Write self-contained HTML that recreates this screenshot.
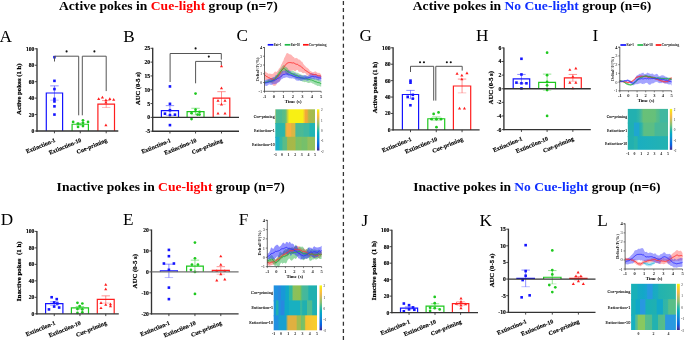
<!DOCTYPE html>
<html><head><meta charset="utf-8"><title>Figure</title>
<style>html,body{margin:0;padding:0;background:#fff;width:685px;height:341px;overflow:hidden}svg{display:block;will-change:transform}</style>
</head><body>
<svg width="685" height="341" viewBox="0 0 685 341" font-family='"Liberation Serif", serif'><defs>
<linearGradient id="pg" x1="0" y1="0" x2="0" y2="1"><stop offset="0" stop-color="#f9fb0e"/><stop offset="0.06" stop-color="#f5de21"/><stop offset="0.12" stop-color="#fec932"/><stop offset="0.19" stop-color="#f2b949"/><stop offset="0.25" stop-color="#d3bb58"/><stop offset="0.31" stop-color="#b1bd66"/><stop offset="0.38" stop-color="#8bbf75"/><stop offset="0.44" stop-color="#5ebe89"/><stop offset="0.5" stop-color="#33b8a1"/><stop offset="0.56" stop-color="#13b0b6"/><stop offset="0.62" stop-color="#06a6c7"/><stop offset="0.69" stop-color="#0a97d1"/><stop offset="0.75" stop-color="#1484d4"/><stop offset="0.81" stop-color="#0c74dd"/><stop offset="0.88" stop-color="#0462e0"/><stop offset="0.94" stop-color="#3243b9"/><stop offset="1" stop-color="#352a87"/></linearGradient>
</defs>
<text x="59" y="10.3" font-size="13.5" font-weight="bold" textLength="218.7" lengthAdjust="spacingAndGlyphs"><tspan fill="#000">Active pokes in </tspan><tspan fill="#ff0000">Cue-light</tspan><tspan fill="#000"> group (n=7)</tspan></text>
<text x="412.8" y="10.3" font-size="13.5" font-weight="bold" textLength="238.5" lengthAdjust="spacingAndGlyphs"><tspan fill="#000">Active pokes in </tspan><tspan fill="#1030ff">No Cue-light</tspan><tspan fill="#000"> group (n=6)</tspan></text>
<text x="56.6" y="190.6" font-size="13.5" font-weight="bold" textLength="228.2" lengthAdjust="spacingAndGlyphs"><tspan fill="#000">Inactive pokes in </tspan><tspan fill="#ff0000">Cue-light</tspan><tspan fill="#000"> group (n=7)</tspan></text>
<text x="413.2" y="190.7" font-size="13.5" font-weight="bold" textLength="247.3" lengthAdjust="spacingAndGlyphs"><tspan fill="#000">Inactive pokes in </tspan><tspan fill="#1030ff">No Cue-light</tspan><tspan fill="#000"> group (n=6)</tspan></text>
<line x1="343.4" y1="0.9" x2="343.4" y2="341" stroke="#333" stroke-width="1.3" stroke-dasharray="4 3.13"/>
<text x="-0.4" y="41.8" font-size="17.2" text-anchor="start" font-weight="normal" font-style="normal" fill="#000">A</text>
<line x1="34.8" y1="131" x2="37" y2="131" stroke="#333333" stroke-width="0.9"/>
<text x="34.4" y="132.95" font-size="5.6" text-anchor="end" font-weight="bold" font-style="normal" fill="#000" stroke="#000" stroke-width="0.15">0</text>
<line x1="34.8" y1="114.56" x2="37" y2="114.56" stroke="#333333" stroke-width="0.9"/>
<text x="34.4" y="116.51" font-size="5.6" text-anchor="end" font-weight="bold" font-style="normal" fill="#000" stroke="#000" stroke-width="0.15">20</text>
<line x1="34.8" y1="98.12" x2="37" y2="98.12" stroke="#333333" stroke-width="0.9"/>
<text x="34.4" y="100.07" font-size="5.6" text-anchor="end" font-weight="bold" font-style="normal" fill="#000" stroke="#000" stroke-width="0.15">40</text>
<line x1="34.8" y1="81.68" x2="37" y2="81.68" stroke="#333333" stroke-width="0.9"/>
<text x="34.4" y="83.63" font-size="5.6" text-anchor="end" font-weight="bold" font-style="normal" fill="#000" stroke="#000" stroke-width="0.15">60</text>
<line x1="34.8" y1="65.24" x2="37" y2="65.24" stroke="#333333" stroke-width="0.9"/>
<text x="34.4" y="67.19" font-size="5.6" text-anchor="end" font-weight="bold" font-style="normal" fill="#000" stroke="#000" stroke-width="0.15">80</text>
<line x1="34.8" y1="48.8" x2="37" y2="48.8" stroke="#333333" stroke-width="0.9"/>
<text x="34.4" y="50.75" font-size="5.6" text-anchor="end" font-weight="bold" font-style="normal" fill="#000" stroke="#000" stroke-width="0.15">100</text>
<text x="21.4" y="89.2" font-size="6.75" text-anchor="middle" font-weight="bold" font-style="normal" fill="#000" transform="rotate(-90 21.4 89.2)" stroke="#000" stroke-width="0.22">Active pokes (1 h)</text>
<line x1="54.45" y1="85.87" x2="54.45" y2="100.17" stroke="#1414ff" stroke-width="0.8" stroke-opacity="0.6"/>
<line x1="50.25" y1="85.87" x2="58.65" y2="85.87" stroke="#1414ff" stroke-width="0.8" stroke-opacity="0.6"/>
<line x1="50.25" y1="100.17" x2="58.65" y2="100.17" stroke="#1414ff" stroke-width="0.8" stroke-opacity="0.35"/>
<polyline points="46.3,131 46.3,93.02 62.6,93.02 62.6,131" fill="none" stroke="#1414ff" stroke-width="1.2" stroke-linejoin="miter"/>
<rect x="53.15" y="55.88" width="2.6" height="2.6" fill="#1414ff"/>
<rect x="53.15" y="79.56" width="2.6" height="2.6" fill="#1414ff"/>
<rect x="53.15" y="87.78" width="2.6" height="2.6" fill="#1414ff"/>
<rect x="53.15" y="97.64" width="2.6" height="2.6" fill="#1414ff"/>
<rect x="53.15" y="100.11" width="2.6" height="2.6" fill="#1414ff"/>
<rect x="53.15" y="105.04" width="2.6" height="2.6" fill="#1414ff"/>
<rect x="53.15" y="113.26" width="2.6" height="2.6" fill="#1414ff"/>
<line x1="80.25" y1="123.19" x2="80.25" y2="125.33" stroke="#1ec81e" stroke-width="0.8" stroke-opacity="0.6"/>
<line x1="76.05" y1="123.19" x2="84.45" y2="123.19" stroke="#1ec81e" stroke-width="0.8" stroke-opacity="0.6"/>
<line x1="76.05" y1="125.33" x2="84.45" y2="125.33" stroke="#1ec81e" stroke-width="0.8" stroke-opacity="0.35"/>
<polyline points="72.1,131 72.1,124.26 88.4,124.26 88.4,131" fill="none" stroke="#1ec81e" stroke-width="1.2" stroke-linejoin="miter"/>
<circle cx="73.15" cy="121.96" r="1.37" fill="#1ec81e"/>
<circle cx="78.05" cy="123.6" r="1.37" fill="#1ec81e"/>
<circle cx="78.05" cy="126.89" r="1.37" fill="#1ec81e"/>
<circle cx="82.95" cy="120.31" r="1.37" fill="#1ec81e"/>
<circle cx="82.95" cy="122.78" r="1.37" fill="#1ec81e"/>
<circle cx="82.95" cy="126.07" r="1.37" fill="#1ec81e"/>
<circle cx="88.05" cy="121.96" r="1.37" fill="#1ec81e"/>
<line x1="106.2" y1="100.59" x2="106.2" y2="107.49" stroke="#ff1e1e" stroke-width="0.8" stroke-opacity="0.6"/>
<line x1="102" y1="100.59" x2="110.4" y2="100.59" stroke="#ff1e1e" stroke-width="0.8" stroke-opacity="0.6"/>
<line x1="102" y1="107.49" x2="110.4" y2="107.49" stroke="#ff1e1e" stroke-width="0.8" stroke-opacity="0.35"/>
<polyline points="97.9,131 97.9,104.04 114.5,104.04 114.5,131" fill="none" stroke="#ff1e1e" stroke-width="1.2" stroke-linejoin="miter"/>
<polygon points="98.7,97.22 97.14,99.95 100.26,99.95" fill="#ff1e1e"/>
<polygon points="102.4,95.74 100.84,98.47 103.96,98.47" fill="#ff1e1e"/>
<polygon points="105.9,98.45 104.34,101.18 107.46,101.18" fill="#ff1e1e"/>
<polygon points="109.8,97.22 108.24,99.95 111.36,99.95" fill="#ff1e1e"/>
<polygon points="113.7,98.04 112.14,100.77 115.26,100.77" fill="#ff1e1e"/>
<polygon points="105.9,123.52 104.34,126.25 107.46,126.25" fill="#ff1e1e"/>
<polygon points="105.9,100.67 104.34,103.4 107.46,103.4" fill="#ff1e1e"/>
<line x1="37" y1="48.3" x2="37" y2="131.65" stroke="#333333" stroke-width="1.35"/>
<line x1="36.4" y1="131" x2="118.3" y2="131" stroke="#333333" stroke-width="1.35"/>
<line x1="54.45" y1="131" x2="54.45" y2="133.3" stroke="#333333" stroke-width="0.9"/>
<text x="55.85" y="141.6" font-size="5.95" text-anchor="end" font-weight="bold" font-style="normal" fill="#000" transform="rotate(-22.5 55.85 141.6)" stroke="#000" stroke-width="0.14">Extinction-1</text>
<line x1="80.25" y1="131" x2="80.25" y2="133.3" stroke="#333333" stroke-width="0.9"/>
<text x="81.65" y="141.6" font-size="5.95" text-anchor="end" font-weight="bold" font-style="normal" fill="#000" transform="rotate(-22.5 81.65 141.6)" stroke="#000" stroke-width="0.14">Extinction-10</text>
<line x1="106.2" y1="131" x2="106.2" y2="133.3" stroke="#333333" stroke-width="0.9"/>
<text x="107.6" y="141.6" font-size="5.95" text-anchor="end" font-weight="bold" font-style="normal" fill="#000" transform="rotate(-22.5 107.6 141.6)" stroke="#000" stroke-width="0.14">Cue-priming</text>
<polyline points="54.5,61.5 54.5,56.2 78.7,56.2 78.7,115.3" fill="none" stroke="#555" stroke-width="1.0"/>
<polyline points="82.3,115.3 82.3,56.2 106.2,56.2 106.2,91.1" fill="none" stroke="#555" stroke-width="1.0"/>
<circle cx="66.6" cy="51.4" r="1.05" fill="#111"/>
<circle cx="94.4" cy="51.4" r="1.05" fill="#111"/>
<text x="123.3" y="41.7" font-size="17.2" text-anchor="start" font-weight="normal" font-style="normal" fill="#000">B</text>
<line x1="150.5" y1="131.2" x2="152.7" y2="131.2" stroke="#333333" stroke-width="0.9"/>
<text x="150.1" y="133.15" font-size="5.6" text-anchor="end" font-weight="bold" font-style="normal" fill="#000" stroke="#000" stroke-width="0.15">-5</text>
<line x1="150.5" y1="117.38" x2="152.7" y2="117.38" stroke="#333333" stroke-width="0.9"/>
<text x="150.1" y="119.33" font-size="5.6" text-anchor="end" font-weight="bold" font-style="normal" fill="#000" stroke="#000" stroke-width="0.15">0</text>
<line x1="150.5" y1="103.57" x2="152.7" y2="103.57" stroke="#333333" stroke-width="0.9"/>
<text x="150.1" y="105.52" font-size="5.6" text-anchor="end" font-weight="bold" font-style="normal" fill="#000" stroke="#000" stroke-width="0.15">5</text>
<line x1="150.5" y1="89.75" x2="152.7" y2="89.75" stroke="#333333" stroke-width="0.9"/>
<text x="150.1" y="91.7" font-size="5.6" text-anchor="end" font-weight="bold" font-style="normal" fill="#000" stroke="#000" stroke-width="0.15">10</text>
<line x1="150.5" y1="75.93" x2="152.7" y2="75.93" stroke="#333333" stroke-width="0.9"/>
<text x="150.1" y="77.88" font-size="5.6" text-anchor="end" font-weight="bold" font-style="normal" fill="#000" stroke="#000" stroke-width="0.15">15</text>
<line x1="150.5" y1="62.12" x2="152.7" y2="62.12" stroke="#333333" stroke-width="0.9"/>
<text x="150.1" y="64.07" font-size="5.6" text-anchor="end" font-weight="bold" font-style="normal" fill="#000" stroke="#000" stroke-width="0.15">20</text>
<line x1="150.5" y1="48.3" x2="152.7" y2="48.3" stroke="#333333" stroke-width="0.9"/>
<text x="150.1" y="50.25" font-size="5.6" text-anchor="end" font-weight="bold" font-style="normal" fill="#000" stroke="#000" stroke-width="0.15">25</text>
<text x="139.9" y="88.55" font-size="6.5" text-anchor="middle" font-weight="bold" font-style="normal" fill="#000" transform="rotate(-90 139.9 88.55)" stroke="#000" stroke-width="0.22">AUC (0-5 s)</text>
<line x1="169.95" y1="105.61" x2="169.95" y2="115.56" stroke="#1414ff" stroke-width="0.8" stroke-opacity="0.6"/>
<line x1="165.75" y1="105.61" x2="174.15" y2="105.61" stroke="#1414ff" stroke-width="0.8" stroke-opacity="0.6"/>
<line x1="165.75" y1="115.56" x2="174.15" y2="115.56" stroke="#1414ff" stroke-width="0.8" stroke-opacity="0.35"/>
<polyline points="161.4,117.38 161.4,110.59 178.5,110.59 178.5,117.38" fill="none" stroke="#1414ff" stroke-width="1.2" stroke-linejoin="miter"/>
<rect x="168.65" y="85.13" width="2.6" height="2.6" fill="#1414ff"/>
<rect x="168.65" y="102.54" width="2.6" height="2.6" fill="#1414ff"/>
<rect x="168.65" y="108.9" width="2.6" height="2.6" fill="#1414ff"/>
<rect x="163.65" y="112.38" width="2.6" height="2.6" fill="#1414ff"/>
<rect x="168.65" y="113.79" width="2.6" height="2.6" fill="#1414ff"/>
<rect x="173.65" y="113.38" width="2.6" height="2.6" fill="#1414ff"/>
<rect x="168.65" y="123.82" width="2.6" height="2.6" fill="#1414ff"/>
<line x1="195.55" y1="108.26" x2="195.55" y2="114.9" stroke="#1ec81e" stroke-width="0.8" stroke-opacity="0.6"/>
<line x1="191.35" y1="108.26" x2="199.75" y2="108.26" stroke="#1ec81e" stroke-width="0.8" stroke-opacity="0.6"/>
<line x1="191.35" y1="114.9" x2="199.75" y2="114.9" stroke="#1ec81e" stroke-width="0.8" stroke-opacity="0.35"/>
<polyline points="187.1,117.38 187.1,111.58 204,111.58 204,117.38" fill="none" stroke="#1ec81e" stroke-width="1.2" stroke-linejoin="miter"/>
<circle cx="195.55" cy="93.62" r="1.37" fill="#1ec81e"/>
<circle cx="195.55" cy="109.65" r="1.37" fill="#1ec81e"/>
<circle cx="191.55" cy="113.24" r="1.37" fill="#1ec81e"/>
<circle cx="199.55" cy="111.86" r="1.37" fill="#1ec81e"/>
<circle cx="197.55" cy="114.62" r="1.37" fill="#1ec81e"/>
<circle cx="191.55" cy="119.04" r="1.37" fill="#1ec81e"/>
<circle cx="199.55" cy="114.62" r="1.37" fill="#1ec81e"/>
<line x1="221.5" y1="91.68" x2="221.5" y2="104.4" stroke="#ff1e1e" stroke-width="0.8" stroke-opacity="0.6"/>
<line x1="217.3" y1="91.68" x2="225.7" y2="91.68" stroke="#ff1e1e" stroke-width="0.8" stroke-opacity="0.6"/>
<line x1="217.3" y1="104.4" x2="225.7" y2="104.4" stroke="#ff1e1e" stroke-width="0.8" stroke-opacity="0.35"/>
<polyline points="213.2,117.38 213.2,98.04 229.8,98.04 229.8,117.38" fill="none" stroke="#ff1e1e" stroke-width="1.2" stroke-linejoin="miter"/>
<polygon points="221.5,64.43 219.94,67.16 223.06,67.16" fill="#ff1e1e"/>
<polygon points="221.5,86.53 219.94,89.26 223.06,89.26" fill="#ff1e1e"/>
<polygon points="218,98.97 216.44,101.7 219.56,101.7" fill="#ff1e1e"/>
<polygon points="225,98.97 223.44,101.7 226.56,101.7" fill="#ff1e1e"/>
<polygon points="221.5,102.84 219.94,105.57 223.06,105.57" fill="#ff1e1e"/>
<polygon points="218,111.68 216.44,114.41 219.56,114.41" fill="#ff1e1e"/>
<polygon points="225,111.68 223.44,114.41 226.56,114.41" fill="#ff1e1e"/>
<line x1="152.7" y1="47.8" x2="152.7" y2="131.85" stroke="#333333" stroke-width="1.35"/>
<line x1="152.1" y1="131.2" x2="239" y2="131.2" stroke="#333333" stroke-width="1.35"/>
<line x1="152.7" y1="117.38" x2="239" y2="117.38" stroke="#333333" stroke-width="1.3"/>
<line x1="169.95" y1="131.2" x2="169.95" y2="133.5" stroke="#333333" stroke-width="0.9"/>
<text x="171.35" y="141.8" font-size="5.95" text-anchor="end" font-weight="bold" font-style="normal" fill="#000" transform="rotate(-22.5 171.35 141.8)" stroke="#000" stroke-width="0.14">Extinction-1</text>
<line x1="195.55" y1="131.2" x2="195.55" y2="133.5" stroke="#333333" stroke-width="0.9"/>
<text x="196.95" y="141.8" font-size="5.95" text-anchor="end" font-weight="bold" font-style="normal" fill="#000" transform="rotate(-22.5 196.95 141.8)" stroke="#000" stroke-width="0.14">Extinction-10</text>
<line x1="221.5" y1="131.2" x2="221.5" y2="133.5" stroke="#333333" stroke-width="0.9"/>
<text x="222.9" y="141.8" font-size="5.95" text-anchor="end" font-weight="bold" font-style="normal" fill="#000" transform="rotate(-22.5 222.9 141.8)" stroke="#000" stroke-width="0.14">Cue-priming</text>
<polyline points="170.1,82 170.1,53.5 221.3,53.5 221.3,59.6" fill="none" stroke="#555" stroke-width="1.0"/>
<polyline points="195.6,83.3 195.6,61.4 221.3,61.4 221.3,64.9" fill="none" stroke="#555" stroke-width="1.0"/>
<circle cx="195.6" cy="48.4" r="1.05" fill="#111"/>
<circle cx="208.8" cy="56.6" r="1.05" fill="#111"/>
<text x="0.8" y="225" font-size="17.2" text-anchor="start" font-weight="normal" font-style="normal" fill="#000">D</text>
<line x1="34.7" y1="313.8" x2="36.9" y2="313.8" stroke="#333333" stroke-width="0.9"/>
<text x="34.3" y="315.75" font-size="5.6" text-anchor="end" font-weight="bold" font-style="normal" fill="#000" stroke="#000" stroke-width="0.15">0</text>
<line x1="34.7" y1="297.32" x2="36.9" y2="297.32" stroke="#333333" stroke-width="0.9"/>
<text x="34.3" y="299.27" font-size="5.6" text-anchor="end" font-weight="bold" font-style="normal" fill="#000" stroke="#000" stroke-width="0.15">20</text>
<line x1="34.7" y1="280.84" x2="36.9" y2="280.84" stroke="#333333" stroke-width="0.9"/>
<text x="34.3" y="282.79" font-size="5.6" text-anchor="end" font-weight="bold" font-style="normal" fill="#000" stroke="#000" stroke-width="0.15">40</text>
<line x1="34.7" y1="264.36" x2="36.9" y2="264.36" stroke="#333333" stroke-width="0.9"/>
<text x="34.3" y="266.31" font-size="5.6" text-anchor="end" font-weight="bold" font-style="normal" fill="#000" stroke="#000" stroke-width="0.15">60</text>
<line x1="34.7" y1="247.88" x2="36.9" y2="247.88" stroke="#333333" stroke-width="0.9"/>
<text x="34.3" y="249.83" font-size="5.6" text-anchor="end" font-weight="bold" font-style="normal" fill="#000" stroke="#000" stroke-width="0.15">80</text>
<line x1="34.7" y1="231.4" x2="36.9" y2="231.4" stroke="#333333" stroke-width="0.9"/>
<text x="34.3" y="233.35" font-size="5.6" text-anchor="end" font-weight="bold" font-style="normal" fill="#000" stroke="#000" stroke-width="0.15">100</text>
<text x="21" y="271.3" font-size="6.95" text-anchor="middle" font-weight="bold" font-style="normal" fill="#000" transform="rotate(-90 21 271.3)" stroke="#000" stroke-width="0.22">Inactive pokes&#160; (1 h)</text>
<line x1="54.25" y1="301.85" x2="54.25" y2="305.48" stroke="#1414ff" stroke-width="0.8" stroke-opacity="0.6"/>
<line x1="50.05" y1="301.85" x2="58.45" y2="301.85" stroke="#1414ff" stroke-width="0.8" stroke-opacity="0.6"/>
<line x1="50.05" y1="305.48" x2="58.45" y2="305.48" stroke="#1414ff" stroke-width="0.8" stroke-opacity="0.35"/>
<polyline points="45.6,313.8 45.6,303.66 62.9,303.66 62.9,313.8" fill="none" stroke="#1414ff" stroke-width="1.2" stroke-linejoin="miter"/>
<rect x="50.35" y="295.94" width="2.6" height="2.6" fill="#1414ff"/>
<rect x="55.45" y="297.83" width="2.6" height="2.6" fill="#1414ff"/>
<rect x="52.85" y="301.13" width="2.6" height="2.6" fill="#1414ff"/>
<rect x="56.05" y="302.2" width="2.6" height="2.6" fill="#1414ff"/>
<rect x="52.85" y="305.25" width="2.6" height="2.6" fill="#1414ff"/>
<rect x="47.65" y="308.13" width="2.6" height="2.6" fill="#1414ff"/>
<rect x="57.85" y="306.24" width="2.6" height="2.6" fill="#1414ff"/>
<line x1="79.95" y1="306.47" x2="79.95" y2="309.43" stroke="#1ec81e" stroke-width="0.8" stroke-opacity="0.6"/>
<line x1="75.75" y1="306.47" x2="84.15" y2="306.47" stroke="#1ec81e" stroke-width="0.8" stroke-opacity="0.6"/>
<line x1="75.75" y1="309.43" x2="84.15" y2="309.43" stroke="#1ec81e" stroke-width="0.8" stroke-opacity="0.35"/>
<polyline points="71.4,313.8 71.4,307.95 88.5,307.95 88.5,313.8" fill="none" stroke="#1ec81e" stroke-width="1.2" stroke-linejoin="miter"/>
<circle cx="77.45" cy="302.76" r="1.37" fill="#1ec81e"/>
<circle cx="82.35" cy="303.5" r="1.37" fill="#1ec81e"/>
<circle cx="79.65" cy="306.05" r="1.37" fill="#1ec81e"/>
<circle cx="77.45" cy="309.02" r="1.37" fill="#1ec81e"/>
<circle cx="82.35" cy="309.43" r="1.37" fill="#1ec81e"/>
<circle cx="77.45" cy="312.89" r="1.37" fill="#1ec81e"/>
<circle cx="82.35" cy="312.32" r="1.37" fill="#1ec81e"/>
<line x1="105.75" y1="295.84" x2="105.75" y2="303.09" stroke="#ff1e1e" stroke-width="0.8" stroke-opacity="0.6"/>
<line x1="101.55" y1="295.84" x2="109.95" y2="295.84" stroke="#ff1e1e" stroke-width="0.8" stroke-opacity="0.6"/>
<line x1="101.55" y1="303.09" x2="109.95" y2="303.09" stroke="#ff1e1e" stroke-width="0.8" stroke-opacity="0.35"/>
<polyline points="97.3,313.8 97.3,299.46 114.2,299.46 114.2,313.8" fill="none" stroke="#ff1e1e" stroke-width="1.2" stroke-linejoin="miter"/>
<polygon points="105.75,282.99 104.19,285.72 107.31,285.72" fill="#ff1e1e"/>
<polygon points="105.75,287.44 104.19,290.17 107.31,290.17" fill="#ff1e1e"/>
<polygon points="101,301.2 99.44,303.93 102.56,303.93" fill="#ff1e1e"/>
<polygon points="105.75,303.09 104.19,305.82 107.31,305.82" fill="#ff1e1e"/>
<polygon points="110.5,302.6 108.94,305.33 112.06,305.33" fill="#ff1e1e"/>
<polygon points="110.5,304.49 108.94,307.22 112.06,307.22" fill="#ff1e1e"/>
<polygon points="101,306.39 99.44,309.12 102.56,309.12" fill="#ff1e1e"/>
<line x1="36.9" y1="230.9" x2="36.9" y2="314.45" stroke="#333333" stroke-width="1.35"/>
<line x1="36.3" y1="313.8" x2="118.8" y2="313.8" stroke="#333333" stroke-width="1.35"/>
<line x1="54.25" y1="313.8" x2="54.25" y2="316.1" stroke="#333333" stroke-width="0.9"/>
<text x="55.65" y="324.4" font-size="5.95" text-anchor="end" font-weight="bold" font-style="normal" fill="#000" transform="rotate(-22.5 55.65 324.4)" stroke="#000" stroke-width="0.14">Extinction-1</text>
<line x1="79.95" y1="313.8" x2="79.95" y2="316.1" stroke="#333333" stroke-width="0.9"/>
<text x="81.35" y="324.4" font-size="5.95" text-anchor="end" font-weight="bold" font-style="normal" fill="#000" transform="rotate(-22.5 81.35 324.4)" stroke="#000" stroke-width="0.14">Extinction-10</text>
<line x1="105.75" y1="313.8" x2="105.75" y2="316.1" stroke="#333333" stroke-width="0.9"/>
<text x="107.15" y="324.4" font-size="5.95" text-anchor="end" font-weight="bold" font-style="normal" fill="#000" transform="rotate(-22.5 107.15 324.4)" stroke="#000" stroke-width="0.14">Cue-priming</text>
<text x="123.1" y="225" font-size="17.2" text-anchor="start" font-weight="normal" font-style="normal" fill="#000">E</text>
<line x1="149.3" y1="313.8" x2="151.5" y2="313.8" stroke="#333333" stroke-width="0.9"/>
<text x="148.9" y="315.75" font-size="5.6" text-anchor="end" font-weight="bold" font-style="normal" fill="#000" stroke="#000" stroke-width="0.15">-20</text>
<line x1="149.3" y1="292.85" x2="151.5" y2="292.85" stroke="#333333" stroke-width="0.9"/>
<text x="148.9" y="294.8" font-size="5.6" text-anchor="end" font-weight="bold" font-style="normal" fill="#000" stroke="#000" stroke-width="0.15">-10</text>
<line x1="149.3" y1="271.9" x2="151.5" y2="271.9" stroke="#333333" stroke-width="0.9"/>
<text x="148.9" y="273.85" font-size="5.6" text-anchor="end" font-weight="bold" font-style="normal" fill="#000" stroke="#000" stroke-width="0.15">0</text>
<line x1="149.3" y1="250.95" x2="151.5" y2="250.95" stroke="#333333" stroke-width="0.9"/>
<text x="148.9" y="252.9" font-size="5.6" text-anchor="end" font-weight="bold" font-style="normal" fill="#000" stroke="#000" stroke-width="0.15">10</text>
<line x1="149.3" y1="230" x2="151.5" y2="230" stroke="#333333" stroke-width="0.9"/>
<text x="148.9" y="231.95" font-size="5.6" text-anchor="end" font-weight="bold" font-style="normal" fill="#000" stroke="#000" stroke-width="0.15">20</text>
<text x="137.2" y="271.2" font-size="6.8" text-anchor="middle" font-weight="bold" font-style="normal" fill="#000" transform="rotate(-90 137.2 271.2)" stroke="#000" stroke-width="0.22">AUC (0-5 s)</text>
<line x1="168.9" y1="264.15" x2="168.9" y2="277.56" stroke="#1414ff" stroke-width="0.8" stroke-opacity="0.6"/>
<line x1="164.7" y1="264.15" x2="173.1" y2="264.15" stroke="#1414ff" stroke-width="0.8" stroke-opacity="0.6"/>
<line x1="164.7" y1="277.56" x2="173.1" y2="277.56" stroke="#1414ff" stroke-width="0.8" stroke-opacity="0.35"/>
<polyline points="160.4,271.9 160.4,270.85 177.4,270.85 177.4,271.9" fill="none" stroke="#1414ff" stroke-width="1.2" stroke-linejoin="miter"/>
<rect x="167.6" y="248.6" width="2.6" height="2.6" fill="#1414ff"/>
<rect x="167.6" y="254.89" width="2.6" height="2.6" fill="#1414ff"/>
<rect x="162.6" y="262.22" width="2.6" height="2.6" fill="#1414ff"/>
<rect x="172.6" y="262.22" width="2.6" height="2.6" fill="#1414ff"/>
<rect x="167.6" y="286.31" width="2.6" height="2.6" fill="#1414ff"/>
<rect x="167.6" y="297.83" width="2.6" height="2.6" fill="#1414ff"/>
<rect x="167.6" y="268.5" width="2.6" height="2.6" fill="#1414ff"/>
<line x1="194.95" y1="260.17" x2="194.95" y2="271.9" stroke="#1ec81e" stroke-width="0.8" stroke-opacity="0.6"/>
<line x1="190.75" y1="260.17" x2="199.15" y2="260.17" stroke="#1ec81e" stroke-width="0.8" stroke-opacity="0.6"/>
<line x1="190.75" y1="271.9" x2="199.15" y2="271.9" stroke="#1ec81e" stroke-width="0.8" stroke-opacity="0.35"/>
<polyline points="186.6,271.9 186.6,266.03 203.3,266.03 203.3,271.9" fill="none" stroke="#1ec81e" stroke-width="1.2" stroke-linejoin="miter"/>
<circle cx="194.95" cy="242.57" r="1.37" fill="#1ec81e"/>
<circle cx="194.95" cy="258.28" r="1.37" fill="#1ec81e"/>
<circle cx="191.95" cy="264.57" r="1.37" fill="#1ec81e"/>
<circle cx="197.95" cy="264.57" r="1.37" fill="#1ec81e"/>
<circle cx="194.95" cy="271.9" r="1.37" fill="#1ec81e"/>
<circle cx="194.95" cy="293.9" r="1.37" fill="#1ec81e"/>
<circle cx="190.95" cy="269.81" r="1.37" fill="#1ec81e"/>
<line x1="220.8" y1="266.66" x2="220.8" y2="274.2" stroke="#ff1e1e" stroke-width="0.8" stroke-opacity="0.6"/>
<line x1="216.6" y1="266.66" x2="225" y2="266.66" stroke="#ff1e1e" stroke-width="0.8" stroke-opacity="0.6"/>
<line x1="216.6" y1="274.2" x2="225" y2="274.2" stroke="#ff1e1e" stroke-width="0.8" stroke-opacity="0.35"/>
<polyline points="212.3,271.9 212.3,270.43 229.3,270.43 229.3,271.9" fill="none" stroke="#ff1e1e" stroke-width="1.2" stroke-linejoin="miter"/>
<polygon points="220.8,254.63 219.24,257.36 222.36,257.36" fill="#ff1e1e"/>
<polygon points="220.8,263.01 219.24,265.74 222.36,265.74" fill="#ff1e1e"/>
<polygon points="216.8,269.29 215.24,272.02 218.36,272.02" fill="#ff1e1e"/>
<polygon points="224.8,269.29 223.24,272.02 226.36,272.02" fill="#ff1e1e"/>
<polygon points="220.8,272.44 219.24,275.17 222.36,275.17" fill="#ff1e1e"/>
<polygon points="216.8,278.72 215.24,281.45 218.36,281.45" fill="#ff1e1e"/>
<polygon points="224.8,277.67 223.24,280.4 226.36,280.4" fill="#ff1e1e"/>
<line x1="151.5" y1="229.5" x2="151.5" y2="314.45" stroke="#333333" stroke-width="1.35"/>
<line x1="150.9" y1="313.8" x2="238.6" y2="313.8" stroke="#333333" stroke-width="1.35"/>
<line x1="151.5" y1="271.9" x2="238.6" y2="271.9" stroke="#707070" stroke-width="1.3"/>
<line x1="168.9" y1="313.8" x2="168.9" y2="316.1" stroke="#333333" stroke-width="0.9"/>
<text x="170.3" y="324.4" font-size="5.95" text-anchor="end" font-weight="bold" font-style="normal" fill="#000" transform="rotate(-22.5 170.3 324.4)" stroke="#000" stroke-width="0.14">Extinction-1</text>
<line x1="194.95" y1="313.8" x2="194.95" y2="316.1" stroke="#333333" stroke-width="0.9"/>
<text x="196.35" y="324.4" font-size="5.95" text-anchor="end" font-weight="bold" font-style="normal" fill="#000" transform="rotate(-22.5 196.35 324.4)" stroke="#000" stroke-width="0.14">Extinction-10</text>
<line x1="220.8" y1="313.8" x2="220.8" y2="316.1" stroke="#333333" stroke-width="0.9"/>
<text x="222.2" y="324.4" font-size="5.95" text-anchor="end" font-weight="bold" font-style="normal" fill="#000" transform="rotate(-22.5 222.2 324.4)" stroke="#000" stroke-width="0.14">Cue-priming</text>
<text x="359.4" y="41.2" font-size="17.2" text-anchor="start" font-weight="normal" font-style="normal" fill="#000">G</text>
<line x1="390.9" y1="129.9" x2="393.1" y2="129.9" stroke="#333333" stroke-width="0.9"/>
<text x="390.5" y="131.85" font-size="5.6" text-anchor="end" font-weight="bold" font-style="normal" fill="#000" stroke="#000" stroke-width="0.15">0</text>
<line x1="390.9" y1="113.48" x2="393.1" y2="113.48" stroke="#333333" stroke-width="0.9"/>
<text x="390.5" y="115.43" font-size="5.6" text-anchor="end" font-weight="bold" font-style="normal" fill="#000" stroke="#000" stroke-width="0.15">20</text>
<line x1="390.9" y1="97.06" x2="393.1" y2="97.06" stroke="#333333" stroke-width="0.9"/>
<text x="390.5" y="99.01" font-size="5.6" text-anchor="end" font-weight="bold" font-style="normal" fill="#000" stroke="#000" stroke-width="0.15">40</text>
<line x1="390.9" y1="80.64" x2="393.1" y2="80.64" stroke="#333333" stroke-width="0.9"/>
<text x="390.5" y="82.59" font-size="5.6" text-anchor="end" font-weight="bold" font-style="normal" fill="#000" stroke="#000" stroke-width="0.15">60</text>
<line x1="390.9" y1="64.22" x2="393.1" y2="64.22" stroke="#333333" stroke-width="0.9"/>
<text x="390.5" y="66.17" font-size="5.6" text-anchor="end" font-weight="bold" font-style="normal" fill="#000" stroke="#000" stroke-width="0.15">80</text>
<line x1="390.9" y1="47.8" x2="393.1" y2="47.8" stroke="#333333" stroke-width="0.9"/>
<text x="390.5" y="49.75" font-size="5.6" text-anchor="end" font-weight="bold" font-style="normal" fill="#000" stroke="#000" stroke-width="0.15">100</text>
<text x="377" y="87.5" font-size="6.75" text-anchor="middle" font-weight="bold" font-style="normal" fill="#000" transform="rotate(-90 377 87.5)" stroke="#000" stroke-width="0.22">Active pokes (1 h)</text>
<line x1="410.5" y1="90.41" x2="410.5" y2="98.62" stroke="#1414ff" stroke-width="0.8" stroke-opacity="0.6"/>
<line x1="406.3" y1="90.41" x2="414.7" y2="90.41" stroke="#1414ff" stroke-width="0.8" stroke-opacity="0.6"/>
<line x1="406.3" y1="98.62" x2="414.7" y2="98.62" stroke="#1414ff" stroke-width="0.8" stroke-opacity="0.35"/>
<polyline points="402.4,129.9 402.4,94.51 418.6,94.51 418.6,129.9" fill="none" stroke="#1414ff" stroke-width="1.2" stroke-linejoin="miter"/>
<rect x="409.2" y="79.34" width="2.6" height="2.6" fill="#1414ff"/>
<rect x="409.2" y="81.39" width="2.6" height="2.6" fill="#1414ff"/>
<rect x="406.4" y="95.51" width="2.6" height="2.6" fill="#1414ff"/>
<rect x="411.5" y="93.54" width="2.6" height="2.6" fill="#1414ff"/>
<rect x="411.5" y="97.32" width="2.6" height="2.6" fill="#1414ff"/>
<rect x="409.1" y="103.97" width="2.6" height="2.6" fill="#1414ff"/>
<line x1="436.25" y1="116.93" x2="436.25" y2="120.54" stroke="#1ec81e" stroke-width="0.8" stroke-opacity="0.6"/>
<line x1="432.05" y1="116.93" x2="440.45" y2="116.93" stroke="#1ec81e" stroke-width="0.8" stroke-opacity="0.6"/>
<line x1="432.05" y1="120.54" x2="440.45" y2="120.54" stroke="#1ec81e" stroke-width="0.8" stroke-opacity="0.35"/>
<polyline points="427.8,129.9 427.8,118.73 444.7,118.73 444.7,129.9" fill="none" stroke="#1ec81e" stroke-width="1.2" stroke-linejoin="miter"/>
<circle cx="433.65" cy="113.89" r="1.37" fill="#1ec81e"/>
<circle cx="438.55" cy="112.41" r="1.37" fill="#1ec81e"/>
<circle cx="431.55" cy="119.23" r="1.37" fill="#1ec81e"/>
<circle cx="436.45" cy="119.23" r="1.37" fill="#1ec81e"/>
<circle cx="441.05" cy="119.23" r="1.37" fill="#1ec81e"/>
<circle cx="436.45" cy="127.19" r="1.37" fill="#1ec81e"/>
<line x1="462.05" y1="79.08" x2="462.05" y2="92.87" stroke="#ff1e1e" stroke-width="0.8" stroke-opacity="0.6"/>
<line x1="457.85" y1="79.08" x2="466.25" y2="79.08" stroke="#ff1e1e" stroke-width="0.8" stroke-opacity="0.6"/>
<line x1="457.85" y1="92.87" x2="466.25" y2="92.87" stroke="#ff1e1e" stroke-width="0.8" stroke-opacity="0.35"/>
<polyline points="453.4,129.9 453.4,85.98 470.7,85.98 470.7,129.9" fill="none" stroke="#ff1e1e" stroke-width="1.2" stroke-linejoin="miter"/>
<polygon points="457.05,72.1 455.49,74.83 458.61,74.83" fill="#ff1e1e"/>
<polygon points="461.85,73.66 460.29,76.39 463.41,76.39" fill="#ff1e1e"/>
<polygon points="466.95,71.61 465.39,74.34 468.51,74.34" fill="#ff1e1e"/>
<polygon points="461.85,77.44 460.29,80.17 463.41,80.17" fill="#ff1e1e"/>
<polygon points="459.55,106.67 457.99,109.4 461.11,109.4" fill="#ff1e1e"/>
<polygon points="464.45,106.67 462.89,109.4 466.01,109.4" fill="#ff1e1e"/>
<line x1="393.1" y1="47.3" x2="393.1" y2="130.55" stroke="#333333" stroke-width="1.35"/>
<line x1="392.5" y1="129.9" x2="479.6" y2="129.9" stroke="#333333" stroke-width="1.35"/>
<line x1="410.5" y1="129.9" x2="410.5" y2="132.2" stroke="#333333" stroke-width="0.9"/>
<text x="411.9" y="140.5" font-size="5.95" text-anchor="end" font-weight="bold" font-style="normal" fill="#000" transform="rotate(-22.5 411.9 140.5)" stroke="#000" stroke-width="0.14">Extinction-1</text>
<line x1="436.25" y1="129.9" x2="436.25" y2="132.2" stroke="#333333" stroke-width="0.9"/>
<text x="437.65" y="140.5" font-size="5.95" text-anchor="end" font-weight="bold" font-style="normal" fill="#000" transform="rotate(-22.5 437.65 140.5)" stroke="#000" stroke-width="0.14">Extinction-10</text>
<line x1="462.05" y1="129.9" x2="462.05" y2="132.2" stroke="#333333" stroke-width="0.9"/>
<text x="463.45" y="140.5" font-size="5.95" text-anchor="end" font-weight="bold" font-style="normal" fill="#000" transform="rotate(-22.5 463.45 140.5)" stroke="#000" stroke-width="0.14">Cue-priming</text>
<polyline points="410.5,72 410.5,66.3 433.7,66.3 433.7,100.6" fill="none" stroke="#555" stroke-width="1.0"/>
<polyline points="435.8,100.6 435.8,66.3 462.2,66.3 462.2,70.6" fill="none" stroke="#555" stroke-width="1.0"/>
<circle cx="420.05" cy="62.2" r="1.05" fill="#111"/>
<circle cx="423.95" cy="62.2" r="1.05" fill="#111"/>
<circle cx="446.85" cy="62.2" r="1.05" fill="#111"/>
<circle cx="450.75" cy="62.2" r="1.05" fill="#111"/>
<text x="476" y="41" font-size="17.2" text-anchor="start" font-weight="normal" font-style="normal" fill="#000">H</text>
<line x1="501.7" y1="129.6" x2="503.9" y2="129.6" stroke="#333333" stroke-width="0.9"/>
<text x="501.3" y="131.55" font-size="5.6" text-anchor="end" font-weight="bold" font-style="normal" fill="#000" stroke="#000" stroke-width="0.15">-6</text>
<line x1="501.7" y1="115.98" x2="503.9" y2="115.98" stroke="#333333" stroke-width="0.9"/>
<text x="501.3" y="117.93" font-size="5.6" text-anchor="end" font-weight="bold" font-style="normal" fill="#000" stroke="#000" stroke-width="0.15">-4</text>
<line x1="501.7" y1="102.37" x2="503.9" y2="102.37" stroke="#333333" stroke-width="0.9"/>
<text x="501.3" y="104.32" font-size="5.6" text-anchor="end" font-weight="bold" font-style="normal" fill="#000" stroke="#000" stroke-width="0.15">-2</text>
<line x1="501.7" y1="88.75" x2="503.9" y2="88.75" stroke="#333333" stroke-width="0.9"/>
<text x="501.3" y="90.7" font-size="5.6" text-anchor="end" font-weight="bold" font-style="normal" fill="#000" stroke="#000" stroke-width="0.15">0</text>
<line x1="501.7" y1="75.13" x2="503.9" y2="75.13" stroke="#333333" stroke-width="0.9"/>
<text x="501.3" y="77.08" font-size="5.6" text-anchor="end" font-weight="bold" font-style="normal" fill="#000" stroke="#000" stroke-width="0.15">2</text>
<line x1="501.7" y1="61.52" x2="503.9" y2="61.52" stroke="#333333" stroke-width="0.9"/>
<text x="501.3" y="63.47" font-size="5.6" text-anchor="end" font-weight="bold" font-style="normal" fill="#000" stroke="#000" stroke-width="0.15">4</text>
<line x1="501.7" y1="47.9" x2="503.9" y2="47.9" stroke="#333333" stroke-width="0.9"/>
<text x="501.3" y="49.85" font-size="5.6" text-anchor="end" font-weight="bold" font-style="normal" fill="#000" stroke="#000" stroke-width="0.15">6</text>
<text x="493" y="87.7" font-size="6.55" text-anchor="middle" font-weight="bold" font-style="normal" fill="#000" transform="rotate(-90 493 87.7)" stroke="#000" stroke-width="0.22">AUC (0-5 s)</text>
<line x1="521.45" y1="74.45" x2="521.45" y2="83.3" stroke="#1414ff" stroke-width="0.8" stroke-opacity="0.6"/>
<line x1="517.25" y1="74.45" x2="525.65" y2="74.45" stroke="#1414ff" stroke-width="0.8" stroke-opacity="0.6"/>
<line x1="517.25" y1="83.3" x2="525.65" y2="83.3" stroke="#1414ff" stroke-width="0.8" stroke-opacity="0.35"/>
<polyline points="513.2,88.75 513.2,78.88 529.7,78.88 529.7,88.75" fill="none" stroke="#1414ff" stroke-width="1.2" stroke-linejoin="miter"/>
<rect x="520.15" y="57.49" width="2.6" height="2.6" fill="#1414ff"/>
<rect x="520.15" y="73.15" width="2.6" height="2.6" fill="#1414ff"/>
<rect x="515.15" y="81.32" width="2.6" height="2.6" fill="#1414ff"/>
<rect x="520.15" y="82" width="2.6" height="2.6" fill="#1414ff"/>
<rect x="525.15" y="82" width="2.6" height="2.6" fill="#1414ff"/>
<rect x="520.15" y="87.11" width="2.6" height="2.6" fill="#1414ff"/>
<line x1="547.1" y1="74.11" x2="547.1" y2="90.45" stroke="#1ec81e" stroke-width="0.8" stroke-opacity="0.6"/>
<line x1="542.9" y1="74.11" x2="551.3" y2="74.11" stroke="#1ec81e" stroke-width="0.8" stroke-opacity="0.6"/>
<line x1="542.9" y1="90.45" x2="551.3" y2="90.45" stroke="#1ec81e" stroke-width="0.8" stroke-opacity="0.35"/>
<polyline points="538.7,88.75 538.7,82.28 555.5,82.28 555.5,88.75" fill="none" stroke="#1ec81e" stroke-width="1.2" stroke-linejoin="miter"/>
<circle cx="547.1" cy="52.67" r="1.37" fill="#1ec81e"/>
<circle cx="547.1" cy="75.13" r="1.37" fill="#1ec81e"/>
<circle cx="547.1" cy="81.94" r="1.37" fill="#1ec81e"/>
<circle cx="547.1" cy="90.11" r="1.37" fill="#1ec81e"/>
<circle cx="547.1" cy="115.98" r="1.37" fill="#1ec81e"/>
<circle cx="547.1" cy="85.35" r="1.37" fill="#1ec81e"/>
<line x1="572.85" y1="74.45" x2="572.85" y2="81.26" stroke="#ff1e1e" stroke-width="0.8" stroke-opacity="0.6"/>
<line x1="568.65" y1="74.45" x2="577.05" y2="74.45" stroke="#ff1e1e" stroke-width="0.8" stroke-opacity="0.6"/>
<line x1="568.65" y1="81.26" x2="577.05" y2="81.26" stroke="#ff1e1e" stroke-width="0.8" stroke-opacity="0.35"/>
<polyline points="564.4,88.75 564.4,77.86 581.3,77.86 581.3,88.75" fill="none" stroke="#ff1e1e" stroke-width="1.2" stroke-linejoin="miter"/>
<polygon points="569.85,68.13 568.29,70.86 571.41,70.86" fill="#ff1e1e"/>
<polygon points="575.85,66.77 574.29,69.5 577.41,69.5" fill="#ff1e1e"/>
<polygon points="572.85,74.94 571.29,77.67 574.41,77.67" fill="#ff1e1e"/>
<polygon points="569.85,81.06 568.29,83.79 571.41,83.79" fill="#ff1e1e"/>
<polygon points="575.85,81.06 574.29,83.79 577.41,83.79" fill="#ff1e1e"/>
<polygon points="572.85,86.51 571.29,89.24 574.41,89.24" fill="#ff1e1e"/>
<line x1="503.9" y1="47.4" x2="503.9" y2="130.25" stroke="#333333" stroke-width="1.35"/>
<line x1="503.3" y1="129.6" x2="590.8" y2="129.6" stroke="#333333" stroke-width="1.35"/>
<line x1="503.9" y1="88.75" x2="590.8" y2="88.75" stroke="#333333" stroke-width="1.3"/>
<line x1="521.45" y1="129.6" x2="521.45" y2="131.9" stroke="#333333" stroke-width="0.9"/>
<text x="522.85" y="140.2" font-size="5.95" text-anchor="end" font-weight="bold" font-style="normal" fill="#000" transform="rotate(-22.5 522.85 140.2)" stroke="#000" stroke-width="0.14">Extinction-1</text>
<line x1="547.1" y1="129.6" x2="547.1" y2="131.9" stroke="#333333" stroke-width="0.9"/>
<text x="548.5" y="140.2" font-size="5.95" text-anchor="end" font-weight="bold" font-style="normal" fill="#000" transform="rotate(-22.5 548.5 140.2)" stroke="#000" stroke-width="0.14">Extinction-10</text>
<line x1="572.85" y1="129.6" x2="572.85" y2="131.9" stroke="#333333" stroke-width="0.9"/>
<text x="574.25" y="140.2" font-size="5.95" text-anchor="end" font-weight="bold" font-style="normal" fill="#000" transform="rotate(-22.5 574.25 140.2)" stroke="#000" stroke-width="0.14">Cue-priming</text>
<text x="361.4" y="225.5" font-size="17.2" text-anchor="start" font-weight="normal" font-style="normal" fill="#000">J</text>
<line x1="389.7" y1="312.6" x2="391.9" y2="312.6" stroke="#333333" stroke-width="0.9"/>
<text x="389.3" y="314.55" font-size="5.6" text-anchor="end" font-weight="bold" font-style="normal" fill="#000" stroke="#000" stroke-width="0.15">0</text>
<line x1="389.7" y1="296.12" x2="391.9" y2="296.12" stroke="#333333" stroke-width="0.9"/>
<text x="389.3" y="298.07" font-size="5.6" text-anchor="end" font-weight="bold" font-style="normal" fill="#000" stroke="#000" stroke-width="0.15">20</text>
<line x1="389.7" y1="279.64" x2="391.9" y2="279.64" stroke="#333333" stroke-width="0.9"/>
<text x="389.3" y="281.59" font-size="5.6" text-anchor="end" font-weight="bold" font-style="normal" fill="#000" stroke="#000" stroke-width="0.15">40</text>
<line x1="389.7" y1="263.16" x2="391.9" y2="263.16" stroke="#333333" stroke-width="0.9"/>
<text x="389.3" y="265.11" font-size="5.6" text-anchor="end" font-weight="bold" font-style="normal" fill="#000" stroke="#000" stroke-width="0.15">60</text>
<line x1="389.7" y1="246.68" x2="391.9" y2="246.68" stroke="#333333" stroke-width="0.9"/>
<text x="389.3" y="248.63" font-size="5.6" text-anchor="end" font-weight="bold" font-style="normal" fill="#000" stroke="#000" stroke-width="0.15">80</text>
<line x1="389.7" y1="230.2" x2="391.9" y2="230.2" stroke="#333333" stroke-width="0.9"/>
<text x="389.3" y="232.15" font-size="5.6" text-anchor="end" font-weight="bold" font-style="normal" fill="#000" stroke="#000" stroke-width="0.15">100</text>
<text x="375.9" y="270.6" font-size="6.9" text-anchor="middle" font-weight="bold" font-style="normal" fill="#000" transform="rotate(-90 375.9 270.6)" stroke="#000" stroke-width="0.22">Inactive pokes&#160; (1 h)</text>
<line x1="409.05" y1="306.91" x2="409.05" y2="309.22" stroke="#1414ff" stroke-width="0.8" stroke-opacity="0.6"/>
<line x1="404.85" y1="306.91" x2="413.25" y2="306.91" stroke="#1414ff" stroke-width="0.8" stroke-opacity="0.6"/>
<line x1="404.85" y1="309.22" x2="413.25" y2="309.22" stroke="#1414ff" stroke-width="0.8" stroke-opacity="0.35"/>
<polyline points="400.5,312.6 400.5,308.07 417.6,308.07 417.6,312.6" fill="none" stroke="#1414ff" stroke-width="1.2" stroke-linejoin="miter"/>
<rect x="402.55" y="302.24" width="2.6" height="2.6" fill="#1414ff"/>
<rect x="407.75" y="303.88" width="2.6" height="2.6" fill="#1414ff"/>
<rect x="411.75" y="306.11" width="2.6" height="2.6" fill="#1414ff"/>
<rect x="413.05" y="308.5" width="2.6" height="2.6" fill="#1414ff"/>
<rect x="402.55" y="309.98" width="2.6" height="2.6" fill="#1414ff"/>
<rect x="407.75" y="308.09" width="2.6" height="2.6" fill="#1414ff"/>
<line x1="435" y1="303.78" x2="435" y2="308.4" stroke="#1ec81e" stroke-width="0.8" stroke-opacity="0.6"/>
<line x1="430.8" y1="303.78" x2="439.2" y2="303.78" stroke="#1ec81e" stroke-width="0.8" stroke-opacity="0.6"/>
<line x1="430.8" y1="308.4" x2="439.2" y2="308.4" stroke="#1ec81e" stroke-width="0.8" stroke-opacity="0.35"/>
<polyline points="426.1,312.6 426.1,306.09 443.9,306.09 443.9,312.6" fill="none" stroke="#1ec81e" stroke-width="1.2" stroke-linejoin="miter"/>
<circle cx="434.7" cy="296.94" r="1.37" fill="#1ec81e"/>
<circle cx="434.7" cy="303.21" r="1.37" fill="#1ec81e"/>
<circle cx="430.1" cy="307.74" r="1.37" fill="#1ec81e"/>
<circle cx="434.7" cy="308.15" r="1.37" fill="#1ec81e"/>
<circle cx="439.7" cy="309.39" r="1.37" fill="#1ec81e"/>
<circle cx="430.1" cy="310.95" r="1.37" fill="#1ec81e"/>
<line x1="460.6" y1="301.89" x2="460.6" y2="305.18" stroke="#ff1e1e" stroke-width="0.8" stroke-opacity="0.6"/>
<line x1="456.4" y1="301.89" x2="464.8" y2="301.89" stroke="#ff1e1e" stroke-width="0.8" stroke-opacity="0.6"/>
<line x1="456.4" y1="305.18" x2="464.8" y2="305.18" stroke="#ff1e1e" stroke-width="0.8" stroke-opacity="0.35"/>
<polyline points="452.4,312.6 452.4,303.54 468.8,303.54 468.8,312.6" fill="none" stroke="#ff1e1e" stroke-width="1.2" stroke-linejoin="miter"/>
<polygon points="461,296.7 459.44,299.43 462.56,299.43" fill="#ff1e1e"/>
<polygon points="461,300 459.44,302.73 462.56,302.73" fill="#ff1e1e"/>
<polygon points="456.4,301.98 454.84,304.71 457.96,304.71" fill="#ff1e1e"/>
<polygon points="465.6,302.55 464.04,305.28 467.16,305.28" fill="#ff1e1e"/>
<polygon points="461,303.87 459.44,306.6 462.56,306.6" fill="#ff1e1e"/>
<polygon points="461,306.59 459.44,309.32 462.56,309.32" fill="#ff1e1e"/>
<line x1="391.9" y1="229.7" x2="391.9" y2="313.25" stroke="#333333" stroke-width="1.35"/>
<line x1="391.3" y1="312.6" x2="478" y2="312.6" stroke="#333333" stroke-width="1.35"/>
<line x1="409.05" y1="312.6" x2="409.05" y2="314.9" stroke="#333333" stroke-width="0.9"/>
<text x="410.45" y="323.2" font-size="5.95" text-anchor="end" font-weight="bold" font-style="normal" fill="#000" transform="rotate(-22.5 410.45 323.2)" stroke="#000" stroke-width="0.14">Extinction-1</text>
<line x1="435" y1="312.6" x2="435" y2="314.9" stroke="#333333" stroke-width="0.9"/>
<text x="436.4" y="323.2" font-size="5.95" text-anchor="end" font-weight="bold" font-style="normal" fill="#000" transform="rotate(-22.5 436.4 323.2)" stroke="#000" stroke-width="0.14">Extinction-10</text>
<line x1="460.6" y1="312.6" x2="460.6" y2="314.9" stroke="#333333" stroke-width="0.9"/>
<text x="462" y="323.2" font-size="5.95" text-anchor="end" font-weight="bold" font-style="normal" fill="#000" transform="rotate(-22.5 462 323.2)" stroke="#000" stroke-width="0.14">Cue-priming</text>
<text x="479.4" y="225.8" font-size="17.2" text-anchor="start" font-weight="normal" font-style="normal" fill="#000">K</text>
<line x1="506.2" y1="312.3" x2="508.4" y2="312.3" stroke="#333333" stroke-width="0.9"/>
<text x="505.8" y="314.25" font-size="5.6" text-anchor="end" font-weight="bold" font-style="normal" fill="#000" stroke="#000" stroke-width="0.15">-10</text>
<line x1="506.2" y1="295.68" x2="508.4" y2="295.68" stroke="#333333" stroke-width="0.9"/>
<text x="505.8" y="297.63" font-size="5.6" text-anchor="end" font-weight="bold" font-style="normal" fill="#000" stroke="#000" stroke-width="0.15">-5</text>
<line x1="506.2" y1="279.06" x2="508.4" y2="279.06" stroke="#333333" stroke-width="0.9"/>
<text x="505.8" y="281.01" font-size="5.6" text-anchor="end" font-weight="bold" font-style="normal" fill="#000" stroke="#000" stroke-width="0.15">0</text>
<line x1="506.2" y1="262.44" x2="508.4" y2="262.44" stroke="#333333" stroke-width="0.9"/>
<text x="505.8" y="264.39" font-size="5.6" text-anchor="end" font-weight="bold" font-style="normal" fill="#000" stroke="#000" stroke-width="0.15">5</text>
<line x1="506.2" y1="245.82" x2="508.4" y2="245.82" stroke="#333333" stroke-width="0.9"/>
<text x="505.8" y="247.77" font-size="5.6" text-anchor="end" font-weight="bold" font-style="normal" fill="#000" stroke="#000" stroke-width="0.15">10</text>
<line x1="506.2" y1="229.2" x2="508.4" y2="229.2" stroke="#333333" stroke-width="0.9"/>
<text x="505.8" y="231.15" font-size="5.6" text-anchor="end" font-weight="bold" font-style="normal" fill="#000" stroke="#000" stroke-width="0.15">15</text>
<text x="494.5" y="270.4" font-size="6.7" text-anchor="middle" font-weight="bold" font-style="normal" fill="#000" transform="rotate(-90 494.5 270.4)" stroke="#000" stroke-width="0.22">AUC (0-5 s)</text>
<line x1="525.65" y1="270.09" x2="525.65" y2="286.71" stroke="#1414ff" stroke-width="0.8" stroke-opacity="0.6"/>
<line x1="521.45" y1="270.09" x2="529.85" y2="270.09" stroke="#1414ff" stroke-width="0.8" stroke-opacity="0.6"/>
<line x1="521.45" y1="286.71" x2="529.85" y2="286.71" stroke="#1414ff" stroke-width="0.8" stroke-opacity="0.35"/>
<polyline points="516.9,279.06 516.9,278.4 534.4,278.4 534.4,279.06" fill="none" stroke="#1414ff" stroke-width="1.2" stroke-linejoin="miter"/>
<rect x="524.35" y="243.86" width="2.6" height="2.6" fill="#1414ff"/>
<rect x="524.35" y="269.78" width="2.6" height="2.6" fill="#1414ff"/>
<rect x="524.35" y="274.44" width="2.6" height="2.6" fill="#1414ff"/>
<rect x="521.35" y="278.76" width="2.6" height="2.6" fill="#1414ff"/>
<rect x="520.35" y="296.04" width="2.6" height="2.6" fill="#1414ff"/>
<rect x="528.35" y="294.05" width="2.6" height="2.6" fill="#1414ff"/>
<line x1="552.3" y1="270.58" x2="552.3" y2="283.88" stroke="#1ec81e" stroke-width="0.8" stroke-opacity="0.6"/>
<line x1="548.1" y1="270.58" x2="556.5" y2="270.58" stroke="#1ec81e" stroke-width="0.8" stroke-opacity="0.6"/>
<line x1="548.1" y1="283.88" x2="556.5" y2="283.88" stroke="#1ec81e" stroke-width="0.8" stroke-opacity="0.35"/>
<polyline points="543.6,279.06 543.6,277.23 561,277.23 561,279.06" fill="none" stroke="#1ec81e" stroke-width="1.2" stroke-linejoin="miter"/>
<circle cx="552.3" cy="250.47" r="1.37" fill="#1ec81e"/>
<circle cx="552.3" cy="270.09" r="1.37" fill="#1ec81e"/>
<circle cx="552.3" cy="274.41" r="1.37" fill="#1ec81e"/>
<circle cx="549.3" cy="285.04" r="1.37" fill="#1ec81e"/>
<circle cx="555.3" cy="287.37" r="1.37" fill="#1ec81e"/>
<circle cx="552.3" cy="292.02" r="1.37" fill="#1ec81e"/>
<line x1="578.4" y1="276.73" x2="578.4" y2="280.06" stroke="#ff1e1e" stroke-width="0.8" stroke-opacity="0.6"/>
<line x1="574.2" y1="276.73" x2="582.6" y2="276.73" stroke="#ff1e1e" stroke-width="0.8" stroke-opacity="0.6"/>
<line x1="574.2" y1="280.06" x2="582.6" y2="280.06" stroke="#ff1e1e" stroke-width="0.8" stroke-opacity="0.35"/>
<polyline points="569.8,279.06 569.8,278.4 587,278.4 587,279.06" fill="none" stroke="#ff1e1e" stroke-width="1.2" stroke-linejoin="miter"/>
<polygon points="578.1,270.85 576.54,273.58 579.66,273.58" fill="#ff1e1e"/>
<polygon points="576,274.51 574.44,277.24 577.56,277.24" fill="#ff1e1e"/>
<polygon points="580.9,274.51 579.34,277.24 582.46,277.24" fill="#ff1e1e"/>
<polygon points="578.4,279.49 576.84,282.22 579.96,282.22" fill="#ff1e1e"/>
<polygon points="573.3,282.15 571.74,284.88 574.86,284.88" fill="#ff1e1e"/>
<polygon points="583.3,282.15 581.74,284.88 584.86,284.88" fill="#ff1e1e"/>
<line x1="508.4" y1="228.7" x2="508.4" y2="312.95" stroke="#333333" stroke-width="1.35"/>
<line x1="507.8" y1="312.3" x2="595.5" y2="312.3" stroke="#333333" stroke-width="1.35"/>
<line x1="508.4" y1="279.06" x2="595.5" y2="279.06" stroke="#333333" stroke-width="1.3"/>
<line x1="525.65" y1="312.3" x2="525.65" y2="314.6" stroke="#333333" stroke-width="0.9"/>
<text x="527.05" y="322.9" font-size="5.95" text-anchor="end" font-weight="bold" font-style="normal" fill="#000" transform="rotate(-22.5 527.05 322.9)" stroke="#000" stroke-width="0.14">Extinction-1</text>
<line x1="552.3" y1="312.3" x2="552.3" y2="314.6" stroke="#333333" stroke-width="0.9"/>
<text x="553.7" y="322.9" font-size="5.95" text-anchor="end" font-weight="bold" font-style="normal" fill="#000" transform="rotate(-22.5 553.7 322.9)" stroke="#000" stroke-width="0.14">Extinction-10</text>
<line x1="578.4" y1="312.3" x2="578.4" y2="314.6" stroke="#333333" stroke-width="0.9"/>
<text x="579.8" y="322.9" font-size="5.95" text-anchor="end" font-weight="bold" font-style="normal" fill="#000" transform="rotate(-22.5 579.8 322.9)" stroke="#000" stroke-width="0.14">Cue-priming</text>
<text x="236.4" y="41.4" font-size="17.2" text-anchor="start" font-weight="normal" font-style="normal" fill="#000">C</text>
<polygon points="264.5,71.16 265.26,71.58 266.01,71.96 266.77,72.7 267.52,73.04 268.28,73.75 269.04,73.84 269.79,73.62 270.55,73.8 271.3,74.03 272.06,73.79 272.82,73.93 273.57,73.19 274.33,72.26 275.08,71.59 275.84,71.68 276.6,71.93 277.35,71.11 278.11,70.13 278.86,68.87 279.62,67.98 280.38,66.9 281.13,64.84 281.89,63.77 282.64,61.64 283.4,60.64 284.16,57.98 284.91,57.09 285.67,55.27 286.42,53.47 287.18,53.06 287.94,53.27 288.69,53.66 289.45,54.24 290.2,54.48 290.96,54.62 291.72,55.19 292.47,55.95 293.23,57.11 293.98,57.05 294.74,58.49 295.5,58.08 296.25,58.37 297.01,57.85 297.76,58.97 298.52,59.53 299.28,59.43 300.03,60.11 300.79,60.79 301.54,61.77 302.3,61.74 303.06,63.4 303.81,64.6 304.57,65.53 305.32,66.02 306.08,67.24 306.84,67.62 307.59,67.97 308.35,68.66 309.1,69.4 309.86,70.64 310.62,71.02 311.37,71.56 312.13,71.99 312.88,72.22 313.64,72.09 314.4,71.87 315.15,71.56 315.91,71.58 316.66,72.17 317.42,72.83 318.18,72.92 318.93,72.84 319.69,73.06 320.44,73.72 321.2,74.81 321.2,78.99 320.44,78.91 319.69,78.54 318.93,78.6 318.18,78.42 317.42,78.61 316.66,78.2 315.91,77.36 315.15,77.46 314.4,77.16 313.64,77.17 312.88,76.93 312.13,76.57 311.37,76.03 310.62,76.14 309.86,76.02 309.1,75.77 308.35,75.79 307.59,75.59 306.84,75.22 306.08,73.92 305.32,73.34 304.57,72.79 303.81,73.33 303.06,73.01 302.3,73.12 301.54,71.97 300.79,71.94 300.03,71.58 299.28,71.88 298.52,71.42 297.76,69.91 297.01,69.89 296.25,70.27 295.5,71.51 294.74,71.1 293.98,70.8 293.23,69.95 292.47,70.48 291.72,70.55 290.96,71.3 290.2,71.42 289.45,71.8 288.69,72.76 287.94,74.04 287.18,74.91 286.42,73.93 285.67,73.67 284.91,73.85 284.16,74.39 283.4,75.05 282.64,75.63 281.89,76.96 281.13,77.42 280.38,80.06 279.62,81.65 278.86,82.37 278.11,81.66 277.35,82.99 276.6,84.06 275.84,85.74 275.08,85.3 274.33,86.06 273.57,85.76 272.82,85.25 272.06,83.87 271.3,83.32 270.55,82.33 269.79,81.8 269.04,81.47 268.28,81.34 267.52,80.6 266.77,80.37 266.01,80.31 265.26,79.78 264.5,79.21" fill="#ff3030" fill-opacity="0.36"/>
<polygon points="264.5,81.24 265.26,80.96 266.01,80.65 266.77,80.46 267.52,80.23 268.28,79.58 269.04,79.45 269.79,79.32 270.55,79.36 271.3,78.61 272.06,78.41 272.82,77.65 273.57,77.45 274.33,77.17 275.08,76.51 275.84,75.73 276.6,74.88 277.35,73.44 278.11,72.36 278.86,71.22 279.62,69.86 280.38,68.84 281.13,67.89 281.89,66.85 282.64,65.89 283.4,65.25 284.16,64.75 284.91,66.18 285.67,66.82 286.42,67.18 287.18,67.83 287.94,68.82 288.69,69.96 289.45,70.86 290.2,71.19 290.96,71.12 291.72,70.83 292.47,70.67 293.23,70.85 293.98,71.6 294.74,71.82 295.5,72.37 296.25,72.63 297.01,72.55 297.76,73.08 298.52,73.24 299.28,73.68 300.03,74.02 300.79,74.45 301.54,74.81 302.3,74.98 303.06,75.29 303.81,75.41 304.57,75.77 305.32,75.97 306.08,76 306.84,75.87 307.59,76.36 308.35,76.32 309.1,76.7 309.86,76.45 310.62,76.58 311.37,77.17 312.13,77.47 312.88,77.73 313.64,77.59 314.4,78.25 315.15,78.45 315.91,78.81 316.66,78.49 317.42,78.97 318.18,78.69 318.93,79.02 319.69,79.96 320.44,80.81 321.2,80.55 321.2,86.48 320.44,86.46 319.69,86.23 318.93,85.76 318.18,86 317.42,85.93 316.66,85.2 315.91,85.36 315.15,84.62 314.4,84.46 313.64,83.75 312.88,83.77 312.13,83.23 311.37,82.68 310.62,82.43 309.86,82.86 309.1,83.09 308.35,83.06 307.59,82.64 306.84,82.23 306.08,82.11 305.32,82.03 304.57,82.19 303.81,81.8 303.06,81.84 302.3,81.41 301.54,81.08 300.79,80.89 300.03,80.49 299.28,79.95 298.52,79.77 297.76,79.31 297.01,78.9 296.25,78.79 295.5,78.65 294.74,77.86 293.98,77.27 293.23,77.09 292.47,77.02 291.72,76.42 290.96,75.21 290.2,75.11 289.45,75.52 288.69,75.92 287.94,75.43 287.18,74.7 286.42,73.64 285.67,73.1 284.91,71.91 284.16,70.85 283.4,71.15 282.64,72.48 281.89,72.98 281.13,74.19 280.38,74.41 279.62,75.59 278.86,76.66 278.11,77.79 277.35,78.17 276.6,79.43 275.84,79.85 275.08,80.88 274.33,81.45 273.57,82.22 272.82,82.43 272.06,82.84 271.3,82.61 270.55,83.03 269.79,83.12 269.04,82.96 268.28,83.07 267.52,83.35 266.77,83.36 266.01,83.46 265.26,83.8 264.5,84.12" fill="#20b040" fill-opacity="0.41"/>
<polygon points="264.5,80.5 265.26,80.08 266.01,79.81 266.77,79.63 267.52,79.31 268.28,79.36 269.04,78.96 269.79,78.49 270.55,78.11 271.3,78.37 272.06,77.68 272.82,77.51 273.57,77.17 274.33,77.47 275.08,76.23 275.84,75.01 276.6,74.98 277.35,74.69 278.11,75.02 278.86,74.29 279.62,74.32 280.38,73.55 281.13,72.67 281.89,71.71 282.64,70.83 283.4,71 284.16,70.84 284.91,70.7 285.67,70.26 286.42,70.07 287.18,70.21 287.94,70.5 288.69,70.11 289.45,70.7 290.2,70.75 290.96,72.01 291.72,72.45 292.47,72.88 293.23,72.91 293.98,73.33 294.74,72.93 295.5,73.55 296.25,74.07 297.01,74.36 297.76,74.75 298.52,75.03 299.28,74.93 300.03,74.96 300.79,75.1 301.54,75.55 302.3,75.84 303.06,75.58 303.81,75.41 304.57,75.03 305.32,75.07 306.08,75.07 306.84,75.93 307.59,75.92 308.35,75.69 309.1,74.84 309.86,74.35 310.62,73.86 311.37,73.38 312.13,73.42 312.88,73.14 313.64,73.8 314.4,73.99 315.15,74.19 315.91,74.06 316.66,74.78 317.42,74.83 318.18,75.55 318.93,75.77 319.69,75.57 320.44,75.38 321.2,75.73 321.2,81.69 320.44,80.65 319.69,80.22 318.93,80.57 318.18,80.47 317.42,80.02 316.66,79.85 315.91,79.57 315.15,79.37 314.4,79.63 313.64,79.33 312.88,79.17 312.13,78.81 311.37,78.94 310.62,79.05 309.86,80.05 309.1,80.02 308.35,80.45 307.59,80.63 306.84,80.5 306.08,80.39 305.32,79.75 304.57,80.21 303.81,80.11 303.06,80.55 302.3,80.52 301.54,80.81 300.79,80.73 300.03,80.6 299.28,80.44 298.52,80.73 297.76,80.78 297.01,80.6 296.25,80.43 295.5,79.78 294.74,78.92 293.98,78.67 293.23,78.56 292.47,78.25 291.72,78.65 290.96,78.07 290.2,78.6 289.45,78.35 288.69,78.06 287.94,77.5 287.18,77.45 286.42,77.33 285.67,77.62 284.91,77.73 284.16,78.09 283.4,77.99 282.64,78.63 281.89,79.06 281.13,79.49 280.38,80.5 279.62,81.3 278.86,82.34 278.11,82.39 277.35,83.06 276.6,83.5 275.84,84.02 275.08,83.74 274.33,84.19 273.57,83.66 272.82,84.53 272.06,84.51 271.3,85.11 270.55,84.69 269.79,84.43 269.04,84.33 268.28,84.98 267.52,85.62 266.77,85.93 266.01,85.96 265.26,85.6 264.5,85.52" fill="#3030ff" fill-opacity="0.45"/>
<polyline points="264.5,74.71 265.26,75.33 266.01,76.05 266.77,76.6 267.52,76.91 268.28,77.55 269.04,77.87 269.79,78.05 270.55,78.58 271.3,78.82 272.06,78.98 272.82,79.47 273.57,79.8 274.33,79.4 275.08,78.75 275.84,78.23 276.6,77.72 277.35,77.01 278.11,76.2 278.86,75.08 279.62,74.11 280.38,72.8 281.13,71.25 281.89,70.04 282.64,68.78 283.4,67.73 284.16,66.73 284.91,65.7 285.67,64.78 286.42,63.79 287.18,63.25 287.94,62.94 288.69,62.64 289.45,62.57 290.2,62.6 290.96,62.61 291.72,62.83 292.47,62.98 293.23,62.82 293.98,62.99 294.74,63.48 295.5,63.94 296.25,64.27 297.01,64.23 297.76,64.48 298.52,65.22 299.28,65.69 300.03,65.83 300.79,66.35 301.54,67.06 302.3,67.59 303.06,68.32 303.81,69.13 304.57,69.78 305.32,70.3 306.08,70.8 306.84,71.25 307.59,71.73 308.35,72.27 309.1,72.72 309.86,73.29 310.62,73.66 311.37,73.85 312.13,74.31 312.88,74.47 313.64,74.55 314.4,74.55 315.15,74.43 315.91,74.4 316.66,74.93 317.42,75.6 318.18,75.71 318.93,75.74 319.69,75.8 320.44,75.99 321.2,76.53" fill="none" stroke="#ff3030" stroke-width="0.9"/>
<polyline points="264.5,82.65 265.26,82.47 266.01,82.2 266.77,81.98 267.52,81.75 268.28,81.37 269.04,81.28 269.79,81.46 270.55,81.36 271.3,81.04 272.06,80.85 272.82,80.37 273.57,79.81 274.33,79.38 275.08,78.55 275.84,77.82 276.6,77.02 277.35,75.83 278.11,74.7 278.86,73.88 279.62,72.71 280.38,71.79 281.13,71.02 281.89,69.83 282.64,69.3 283.4,68.59 284.16,68.37 284.91,69.36 285.67,69.89 286.42,70.32 287.18,71.05 287.94,71.64 288.69,72.08 289.45,72.6 290.2,72.91 290.96,73.16 291.72,73.64 292.47,73.82 293.23,74.16 293.98,74.61 294.74,74.94 295.5,75.38 296.25,75.62 297.01,75.64 297.76,75.97 298.52,76.37 299.28,76.9 300.03,77.44 300.79,77.83 301.54,77.85 302.3,77.95 303.06,78.13 303.81,78.36 304.57,78.74 305.32,78.77 306.08,78.73 306.84,78.87 307.59,79.11 308.35,79.25 309.1,79.4 309.86,79.69 310.62,79.85 311.37,79.92 312.13,80.19 312.88,80.41 313.64,80.85 314.4,81.29 315.15,81.6 315.91,81.87 316.66,82.02 317.42,82.44 318.18,82.68 318.93,82.48 319.69,82.95 320.44,83.5 321.2,83.55" fill="none" stroke="#20b040" stroke-width="0.9"/>
<polyline points="264.5,83.11 265.26,82.78 266.01,82.59 266.77,82.57 267.52,82.34 268.28,82.21 269.04,81.84 269.79,81.44 270.55,81.39 271.3,81.3 272.06,81.04 272.82,80.59 273.57,80.3 274.33,80.31 275.08,79.98 275.84,79.55 276.6,79.28 277.35,78.62 278.11,78.22 278.86,78.03 279.62,77.67 280.38,77.18 281.13,76.24 281.89,75.51 282.64,74.95 283.4,74.59 284.16,74.57 284.91,74.29 285.67,74.02 286.42,74.06 287.18,74.14 287.94,74.07 288.69,74.23 289.45,74.75 290.2,75.11 290.96,75.11 291.72,75.37 292.47,75.61 293.23,75.99 293.98,76.4 294.74,76.38 295.5,76.81 296.25,77.28 297.01,77.22 297.76,77.51 298.52,77.67 299.28,77.7 300.03,77.88 300.79,77.95 301.54,78.01 302.3,78.15 303.06,78.21 303.81,78.23 304.57,78.17 305.32,77.86 306.08,77.89 306.84,78.01 307.59,78.03 308.35,77.72 309.1,77.4 309.86,77.31 310.62,76.88 311.37,76.57 312.13,76.43 312.88,76.31 313.64,76.64 314.4,76.95 315.15,76.79 315.91,76.83 316.66,77.14 317.42,77.29 318.18,77.66 318.93,77.96 319.69,77.91 320.44,77.97 321.2,78.4" fill="none" stroke="#3030ff" stroke-width="0.9"/>
<line x1="264.5" y1="47.2" x2="264.5" y2="91.7" stroke="#444" stroke-width="0.8"/>
<line x1="264.5" y1="91.3" x2="321.2" y2="91.3" stroke="#444" stroke-width="0.8"/>
<line x1="263" y1="91.3" x2="264.5" y2="91.3" stroke="#333333" stroke-width="0.6"/>
<text x="262.2" y="92.8" font-size="4.4" text-anchor="end" font-weight="normal" font-style="normal" fill="#222">-1</text>
<line x1="263" y1="82.54" x2="264.5" y2="82.54" stroke="#333333" stroke-width="0.6"/>
<text x="262.2" y="84.04" font-size="4.4" text-anchor="end" font-weight="normal" font-style="normal" fill="#222">0</text>
<line x1="263" y1="73.78" x2="264.5" y2="73.78" stroke="#333333" stroke-width="0.6"/>
<text x="262.2" y="75.28" font-size="4.4" text-anchor="end" font-weight="normal" font-style="normal" fill="#222">1</text>
<line x1="263" y1="65.02" x2="264.5" y2="65.02" stroke="#333333" stroke-width="0.6"/>
<text x="262.2" y="66.52" font-size="4.4" text-anchor="end" font-weight="normal" font-style="normal" fill="#222">2</text>
<line x1="263" y1="56.26" x2="264.5" y2="56.26" stroke="#333333" stroke-width="0.6"/>
<text x="262.2" y="57.76" font-size="4.4" text-anchor="end" font-weight="normal" font-style="normal" fill="#222">3</text>
<line x1="263" y1="47.5" x2="264.5" y2="47.5" stroke="#333333" stroke-width="0.6"/>
<text x="262.2" y="49" font-size="4.4" text-anchor="end" font-weight="normal" font-style="normal" fill="#222">4</text>
<line x1="263" y1="47.5" x2="264.5" y2="47.5" stroke="#333333" stroke-width="0.6"/>
<text x="262.2" y="49" font-size="4.4" text-anchor="end" font-weight="normal" font-style="normal" fill="#222">4</text>
<line x1="264.5" y1="91.3" x2="264.5" y2="92.8" stroke="#333333" stroke-width="0.6"/>
<text x="264.5" y="97.7" font-size="4.5" text-anchor="middle" font-weight="bold" font-style="normal" fill="#222">-1</text>
<line x1="273.95" y1="91.3" x2="273.95" y2="92.8" stroke="#333333" stroke-width="0.6"/>
<text x="273.95" y="97.7" font-size="4.5" text-anchor="middle" font-weight="bold" font-style="normal" fill="#222">0</text>
<line x1="283.4" y1="91.3" x2="283.4" y2="92.8" stroke="#333333" stroke-width="0.6"/>
<text x="283.4" y="97.7" font-size="4.5" text-anchor="middle" font-weight="bold" font-style="normal" fill="#222">1</text>
<line x1="292.85" y1="91.3" x2="292.85" y2="92.8" stroke="#333333" stroke-width="0.6"/>
<text x="292.85" y="97.7" font-size="4.5" text-anchor="middle" font-weight="bold" font-style="normal" fill="#222">2</text>
<line x1="302.3" y1="91.3" x2="302.3" y2="92.8" stroke="#333333" stroke-width="0.6"/>
<text x="302.3" y="97.7" font-size="4.5" text-anchor="middle" font-weight="bold" font-style="normal" fill="#222">3</text>
<line x1="311.75" y1="91.3" x2="311.75" y2="92.8" stroke="#333333" stroke-width="0.6"/>
<text x="311.75" y="97.7" font-size="4.5" text-anchor="middle" font-weight="bold" font-style="normal" fill="#222">4</text>
<line x1="321.2" y1="91.3" x2="321.2" y2="92.8" stroke="#333333" stroke-width="0.6"/>
<text x="321.2" y="97.7" font-size="4.5" text-anchor="middle" font-weight="bold" font-style="normal" fill="#222">5</text>
<text x="293.15" y="102.7" font-size="4.75" text-anchor="middle" font-weight="bold" font-style="normal" fill="#000">Time (s)</text>
<text x="259" y="69.4" font-size="4.4" text-anchor="middle" font-weight="bold" font-style="normal" fill="#222" transform="rotate(-90 259 69.4)">DeltaF/F(%)</text>
<line x1="267.7" y1="44.8" x2="273.4" y2="44.8" stroke="#1010ff" stroke-width="1.7"/>
<text x="273.8" y="46" font-size="3.4" text-anchor="start" font-weight="normal" font-style="normal" fill="#111" stroke="#111" stroke-width="0.08">Ext-1</text>
<line x1="284.7" y1="44.8" x2="290.4" y2="44.8" stroke="#20b848" stroke-width="1.7"/>
<text x="290.8" y="46" font-size="3.4" text-anchor="start" font-weight="normal" font-style="normal" fill="#111" stroke="#111" stroke-width="0.08">Ext-10</text>
<line x1="303" y1="44.8" x2="308.7" y2="44.8" stroke="#ff1010" stroke-width="1.7"/>
<text x="309.1" y="46" font-size="3.4" text-anchor="start" font-weight="normal" font-style="normal" fill="#111" stroke="#111" stroke-width="0.08">Cue-priming</text>
<linearGradient id="gC0" x1="0" y1="0" x2="1" y2="0"><stop offset="0" stop-color="#8cbc60"/><stop offset="0.03" stop-color="#50bb90"/><stop offset="0.16" stop-color="#4cba94"/><stop offset="0.17" stop-color="#56bc8a"/><stop offset="0.24" stop-color="#5abd86"/><stop offset="0.27" stop-color="#70c070"/><stop offset="0.31" stop-color="#c8d040"/><stop offset="0.35" stop-color="#f8f014"/><stop offset="0.69" stop-color="#f8f014"/><stop offset="0.73" stop-color="#f8c830"/><stop offset="0.76" stop-color="#f2aa38"/><stop offset="0.8" stop-color="#eea83a"/><stop offset="0.84" stop-color="#b4b848"/><stop offset="0.87" stop-color="#a8ba4c"/><stop offset="1" stop-color="#a0bc50"/></linearGradient>
<rect x="275.3" y="109.3" width="39.7" height="14.73" fill="url(#gC0)"/>
<linearGradient id="gC1" x1="0" y1="0" x2="1" y2="0"><stop offset="0" stop-color="#28b5b0"/><stop offset="0.23" stop-color="#2ab5ac"/><stop offset="0.26" stop-color="#b0b450"/><stop offset="0.29" stop-color="#f8b040"/><stop offset="0.39" stop-color="#f6b040"/><stop offset="0.41" stop-color="#e0b440"/><stop offset="0.49" stop-color="#d6b844"/><stop offset="0.52" stop-color="#48b898"/><stop offset="0.7" stop-color="#4cba94"/><stop offset="0.72" stop-color="#40b8a0"/><stop offset="0.85" stop-color="#40b8a0"/><stop offset="0.87" stop-color="#22b5b4"/><stop offset="1" stop-color="#20b5b5"/></linearGradient>
<rect x="275.3" y="123.03" width="39.7" height="14.73" fill="url(#gC1)"/>
<linearGradient id="gC2" x1="0" y1="0" x2="1" y2="0"><stop offset="0" stop-color="#18b0c8"/><stop offset="0.09" stop-color="#1ab0c6"/><stop offset="0.12" stop-color="#30b8a8"/><stop offset="0.17" stop-color="#34b8a6"/><stop offset="0.19" stop-color="#58bc88"/><stop offset="0.28" stop-color="#5cbc86"/><stop offset="0.31" stop-color="#a4b84a"/><stop offset="0.5" stop-color="#a8b848"/><stop offset="0.52" stop-color="#78c068"/><stop offset="0.65" stop-color="#80c060"/><stop offset="0.67" stop-color="#74c06c"/><stop offset="0.8" stop-color="#78c068"/><stop offset="0.82" stop-color="#94c05c"/><stop offset="1" stop-color="#90c060"/></linearGradient>
<rect x="275.3" y="136.77" width="39.7" height="13.73" fill="url(#gC2)"/>
<text x="274.7" y="118.37" font-size="3.85" text-anchor="end" font-weight="normal" font-style="normal" fill="#111" letter-spacing="0.12" stroke="#111" stroke-width="0.12">Cue-priming</text>
<text x="274.7" y="132.1" font-size="3.85" text-anchor="end" font-weight="normal" font-style="normal" fill="#111" letter-spacing="0.12" stroke="#111" stroke-width="0.12">Extinction-1</text>
<text x="274.7" y="145.83" font-size="3.85" text-anchor="end" font-weight="normal" font-style="normal" fill="#111" letter-spacing="0.12" stroke="#111" stroke-width="0.12">Extinction-10</text>
<text x="275.3" y="155.5" font-size="3.9" text-anchor="middle" font-weight="bold" font-style="normal" fill="#222">-1</text>
<text x="281.92" y="155.5" font-size="3.9" text-anchor="middle" font-weight="bold" font-style="normal" fill="#222">0</text>
<text x="288.53" y="155.5" font-size="3.9" text-anchor="middle" font-weight="bold" font-style="normal" fill="#222">1</text>
<text x="295.15" y="155.5" font-size="3.9" text-anchor="middle" font-weight="bold" font-style="normal" fill="#222">2</text>
<text x="301.77" y="155.5" font-size="3.9" text-anchor="middle" font-weight="bold" font-style="normal" fill="#222">3</text>
<text x="308.38" y="155.5" font-size="3.9" text-anchor="middle" font-weight="bold" font-style="normal" fill="#222">4</text>
<text x="315" y="155.5" font-size="3.9" text-anchor="middle" font-weight="bold" font-style="normal" fill="#222">5</text>
<rect x="317" y="109.3" width="2.4" height="41.2" fill="url(#pg)"/>
<text x="320.9" y="111.3" font-size="3.3" text-anchor="start" font-weight="normal" font-style="normal" fill="#222">2</text>
<text x="320.9" y="121.6" font-size="3.3" text-anchor="start" font-weight="normal" font-style="normal" fill="#222">1</text>
<text x="320.9" y="131.9" font-size="3.3" text-anchor="start" font-weight="normal" font-style="normal" fill="#222">0</text>
<text x="320.9" y="142.2" font-size="3.3" text-anchor="start" font-weight="normal" font-style="normal" fill="#222">-1</text>
<text x="320.9" y="152.5" font-size="3.3" text-anchor="start" font-weight="normal" font-style="normal" fill="#222">-2</text>
<text x="238.8" y="225" font-size="17.2" text-anchor="start" font-weight="normal" font-style="normal" fill="#000">F</text>
<polygon points="267.3,259.24 268.02,259.97 268.75,259.95 269.47,260.71 270.2,260.12 270.92,259.77 271.64,259.38 272.37,259.29 273.09,258.97 273.82,258.56 274.54,258.99 275.26,259.63 275.99,259.1 276.71,258.38 277.44,257.3 278.16,257.08 278.88,256.21 279.61,255.76 280.33,254.48 281.06,253.67 281.78,253.73 282.5,253.1 283.23,251.63 283.95,250.61 284.68,251.02 285.4,251.42 286.12,250.68 286.85,249.4 287.57,249.22 288.3,249.09 289.02,248.86 289.74,247.83 290.47,247.74 291.19,248.03 291.92,247.93 292.64,248.32 293.36,247.79 294.09,247.42 294.81,246.51 295.54,246.08 296.26,246.21 296.98,246.27 297.71,245.68 298.43,246.53 299.16,246.26 299.88,246.99 300.6,247.79 301.33,248.15 302.05,248.61 302.78,248.65 303.5,248.32 304.22,248.67 304.95,249.16 305.67,249.55 306.4,249.08 307.12,249.48 307.84,250.01 308.57,250.79 309.29,251.69 310.02,251.87 310.74,251.58 311.46,251.01 312.19,251.8 312.91,252.34 313.64,252.41 314.36,252.41 315.08,251.74 315.81,252.36 316.53,252.2 317.26,251.75 317.98,251.88 318.7,251.99 319.43,251.66 320.15,251.53 320.88,251.22 321.6,251.23 321.6,256.4 320.88,256.7 320.15,256.9 319.43,258.42 318.7,258.08 317.98,257.94 317.26,257.07 316.53,257.86 315.81,258 315.08,257.74 314.36,258.19 313.64,257.65 312.91,257.3 312.19,257.51 311.46,256.86 310.74,258.06 310.02,257.55 309.29,257.38 308.57,256.42 307.84,256.14 307.12,256.13 306.4,255.57 305.67,255.58 304.95,255.13 304.22,254.43 303.5,254.18 302.78,254.42 302.05,253.89 301.33,253.18 300.6,253.48 299.88,253.93 299.16,253.82 298.43,253.36 297.71,252.18 296.98,252.66 296.26,252.25 295.54,251.39 294.81,251.52 294.09,252.73 293.36,253.48 292.64,253.53 291.92,252.9 291.19,252.59 290.47,252.49 289.74,252.47 289.02,254.12 288.3,255.41 287.57,256.16 286.85,256.37 286.12,256.43 285.4,256.73 284.68,256.22 283.95,256.09 283.23,256.82 282.5,258.22 281.78,258.75 281.06,259.16 280.33,260.11 279.61,261.03 278.88,261.65 278.16,261.74 277.44,262.23 276.71,263 275.99,263.69 275.26,264.42 274.54,264.2 273.82,264.19 273.09,264.72 272.37,264.83 271.64,265.16 270.92,264.93 270.2,265.65 269.47,265.8 268.75,265.71 268.02,265.05 267.3,264.55" fill="#ff3030" fill-opacity="0.42"/>
<polygon points="267.3,259.03 268.02,258.66 268.75,257.75 269.47,256.79 270.2,256.06 270.92,255.73 271.64,254.39 272.37,255.44 273.09,256.48 273.82,257.39 274.54,258.56 275.26,259.09 275.99,260.13 276.71,258.04 277.44,258 278.16,255.68 278.88,254.52 279.61,252.03 280.33,251.81 281.06,251.88 281.78,252.94 282.5,253.59 283.23,251.69 283.95,250.41 284.68,249.79 285.4,248.68 286.12,249.34 286.85,249.37 287.57,248.33 288.3,247.54 289.02,247.82 289.74,248.56 290.47,248.92 291.19,247.13 291.92,247.44 292.64,247.09 293.36,248.41 294.09,247.05 294.81,246.44 295.54,244.45 296.26,245.38 296.98,246.43 297.71,248.52 298.43,247.37 299.16,247.52 299.88,246.27 300.6,246.73 301.33,247.04 302.05,246.25 302.78,247.12 303.5,247.51 304.22,249.06 304.95,249.9 305.67,250.3 306.4,249.2 307.12,248.95 307.84,247.82 308.57,247.86 309.29,248.6 310.02,249.9 310.74,249.62 311.46,249.12 312.19,249.25 312.91,249.13 313.64,250.12 314.36,249.35 315.08,250.12 315.81,249.48 316.53,250.25 317.26,249.97 317.98,250.6 318.7,249.6 319.43,250.07 320.15,250.95 320.88,251.58 321.6,252.06 321.6,258.85 320.88,259.07 320.15,259.06 319.43,258.67 318.7,258.09 317.98,258.69 317.26,259.08 316.53,259.4 315.81,259.2 315.08,259.59 314.36,258.8 313.64,259.42 312.91,259.46 312.19,259.45 311.46,260.43 310.74,260.46 310.02,261.28 309.29,259.69 308.57,257.79 307.84,258.05 307.12,258.45 306.4,259.05 305.67,258.39 304.95,259.14 304.22,259.71 303.5,260.27 302.78,260.1 302.05,259.33 301.33,258.89 300.6,256.69 299.88,255.27 299.16,255.71 298.43,255.66 297.71,256.29 296.98,257.61 296.26,258.55 295.54,258.98 294.81,258.55 294.09,258.04 293.36,259.3 292.64,259.76 291.92,260.7 291.19,260.56 290.47,260.05 289.74,258.77 289.02,258.44 288.3,259.62 287.57,260.23 286.85,262.18 286.12,263.26 285.4,263.55 284.68,262.82 283.95,262.89 283.23,262.96 282.5,263.99 281.78,262.65 281.06,262.82 280.33,263.71 279.61,265.79 278.88,267.21 278.16,267.54 277.44,266.46 276.71,265.3 275.99,265.98 275.26,265.63 274.54,265.68 273.82,264.69 273.09,263.93 272.37,262.76 271.64,262.15 270.92,262.2 270.2,262.46 269.47,262.13 268.75,263.06 268.02,263.04 267.3,263.21" fill="#20b040" fill-opacity="0.48"/>
<polygon points="267.3,253.48 268.02,253.38 268.75,252.94 269.47,252.05 270.2,250.29 270.92,247.83 271.64,247.55 272.37,248.34 273.09,248.92 273.82,248.36 274.54,246.76 275.26,245.65 275.99,245.38 276.71,244.66 277.44,244.68 278.16,245.21 278.88,246.54 279.61,246.71 280.33,246.06 281.06,245.55 281.78,244.18 282.5,243.29 283.23,242.51 283.95,243.1 284.68,243.79 285.4,243.71 286.12,241.73 286.85,242.26 287.57,242.01 288.3,243.45 289.02,241.92 289.74,241.7 290.47,242.6 291.19,243.99 291.92,243.3 292.64,243.65 293.36,243.94 294.09,244.97 294.81,246.81 295.54,246 296.26,245.31 296.98,246.22 297.71,247.51 298.43,249.53 299.16,250.12 299.88,250.03 300.6,251 301.33,251.59 302.05,252.19 302.78,251.67 303.5,252.63 304.22,252.34 304.95,252.52 305.67,252.13 306.4,251.8 307.12,250.38 307.84,248.62 308.57,247.55 309.29,247.33 310.02,247.75 310.74,247.85 311.46,247.86 312.19,249.02 312.91,247.56 313.64,246.78 314.36,245.98 315.08,247.35 315.81,247.12 316.53,247.48 317.26,247.6 317.98,247.5 318.7,247.34 319.43,246.93 320.15,247.29 320.88,246.21 321.6,245.72 321.6,254.15 320.88,253.81 320.15,253.82 319.43,254.44 318.7,254.82 317.98,256.74 317.26,256.65 316.53,257.32 315.81,256.45 315.08,258.07 314.36,257.72 313.64,257.99 312.91,257.11 312.19,257.09 311.46,255.74 310.74,255.74 310.02,255.99 309.29,257.15 308.57,257.44 307.84,258.59 307.12,258.43 306.4,258.75 305.67,258.33 304.95,258.89 304.22,258.67 303.5,259.47 302.78,258.6 302.05,259.26 301.33,259.47 300.6,259.42 299.88,258.94 299.16,258.36 298.43,258.53 297.71,256.78 296.98,256.45 296.26,255.53 295.54,255.45 294.81,254.84 294.09,253.8 293.36,254.15 292.64,253.67 291.92,254.25 291.19,255.58 290.47,255.71 289.74,253.47 289.02,253.52 288.3,254.22 287.57,255.05 286.85,254.35 286.12,253.8 285.4,252.67 284.68,253.68 283.95,253.99 283.23,255.53 282.5,254.62 281.78,255.09 281.06,254.43 280.33,256.2 279.61,256.96 278.88,257.42 278.16,256.85 277.44,256.47 276.71,256.78 275.99,257.88 275.26,258.36 274.54,259.19 273.82,259.31 273.09,259.28 272.37,259.38 271.64,258.7 270.92,258.21 270.2,258.92 269.47,259.59 268.75,259.27 268.02,259.39 267.3,259.25" fill="#3030ff" fill-opacity="0.53"/>
<polyline points="267.3,262.44 268.02,262.6 268.75,262.8 269.47,263.11 270.2,262.97 270.92,262.4 271.64,262.16 272.37,262.04 273.09,261.87 273.82,261.69 274.54,261.83 275.26,261.34 275.99,260.55 276.71,259.92 277.44,259.5 278.16,259.28 278.88,258.68 279.61,258.21 280.33,257.17 281.06,256.45 281.78,256.42 282.5,255.75 283.23,254.69 283.95,254.14 284.68,254.28 285.4,254.05 286.12,253.23 286.85,252.65 287.57,252.53 288.3,252.1 289.02,251.33 289.74,250.44 290.47,250.58 291.19,250.93 291.92,250.6 292.64,250.79 293.36,250.6 294.09,250.09 294.81,249.47 295.54,249.16 296.26,249.71 296.98,249.45 297.71,249.1 298.43,249.66 299.16,249.83 299.88,249.82 300.6,250.23 301.33,250.47 302.05,251.17 302.78,251.62 303.5,251.23 304.22,251.32 304.95,251.63 305.67,251.89 306.4,252.13 307.12,252.96 307.84,253.39 308.57,253.8 309.29,254.34 310.02,254.54 310.74,254.33 311.46,253.75 312.19,254.21 312.91,254.25 313.64,254.49 314.36,254.99 315.08,254.92 315.81,255.31 316.53,255.32 317.26,254.65 317.98,254.94 318.7,255.08 319.43,254.76 320.15,254.44 320.88,254.19 321.6,254.36" fill="none" stroke="#ff3030" stroke-width="0.9"/>
<polyline points="267.3,260.92 268.02,260.89 268.75,260.46 269.47,259.91 270.2,259.88 270.92,259.67 271.64,258.9 272.37,259.19 273.09,260.27 273.82,261.06 274.54,261.77 275.26,262.55 275.99,262.96 276.71,262.02 277.44,261.24 278.16,260.93 278.88,260.11 279.61,259.02 280.33,258.39 281.06,257.7 281.78,257.06 282.5,257.06 283.23,256.49 283.95,256.66 284.68,256.78 285.4,255.78 286.12,255.49 286.85,255.22 287.57,254.8 288.3,254.56 289.02,253.45 289.74,252.87 290.47,253.29 291.19,252.97 291.92,252.89 292.64,252.87 293.36,252.61 294.09,252.3 294.81,252.55 295.54,252.56 296.26,252 296.98,252.24 297.71,251.83 298.43,251.64 299.16,251.53 299.88,251.39 300.6,251.88 301.33,252.31 302.05,252.59 302.78,253.34 303.5,253.78 304.22,253.67 304.95,253.75 305.67,253.72 306.4,253.75 307.12,254.03 307.84,253.84 308.57,253.2 309.29,253.75 310.02,254.37 310.74,254.33 311.46,254.1 312.19,253.77 312.91,254.34 313.64,254.88 314.36,254.78 315.08,254.82 315.81,254.88 316.53,254.49 317.26,254.37 317.98,254.14 318.7,253.72 319.43,254.38 320.15,254.9 320.88,254.87 321.6,254.36" fill="none" stroke="#20b040" stroke-width="0.9"/>
<polyline points="267.3,256.66 268.02,256.37 268.75,255.94 269.47,255.61 270.2,255.1 270.92,253.83 271.64,253.44 272.37,253.47 273.09,253.15 273.82,252.97 274.54,252.03 275.26,251.36 275.99,251.53 276.71,251.42 277.44,251.15 278.16,251.03 278.88,250.74 279.61,250.45 280.33,249.85 281.06,249.19 281.78,248.83 282.5,248.68 283.23,248.78 283.95,248.43 284.68,248.06 285.4,247.69 286.12,247.35 286.85,247.51 287.57,247.89 288.3,248.66 289.02,248.55 289.74,248.05 290.47,248.85 291.19,249.37 291.92,249.03 292.64,249.59 293.36,249.75 294.09,249.91 294.81,250.96 295.54,251.02 296.26,251.19 296.98,252.16 297.71,252.53 298.43,253.33 299.16,253.61 299.88,253.82 300.6,254.65 301.33,255.03 302.05,255.47 302.78,255.54 303.5,255.99 304.22,255.85 304.95,255.36 305.67,255.23 306.4,254.74 307.12,254.35 307.84,254.05 308.57,253.21 309.29,252.71 310.02,252.34 310.74,251.88 311.46,252.08 312.19,252.39 312.91,252.2 313.64,251.71 314.36,251.63 315.08,251.98 315.81,251.85 316.53,252.11 317.26,252.61 317.98,252.05 318.7,251.07 319.43,250.8 320.15,251.33 320.88,251.11 321.6,250.58" fill="none" stroke="#3030ff" stroke-width="0.9"/>
<line x1="267.3" y1="220.05" x2="267.3" y2="267" stroke="#444" stroke-width="0.8"/>
<line x1="267.3" y1="266.6" x2="321.6" y2="266.6" stroke="#444" stroke-width="0.8"/>
<line x1="265.8" y1="266.6" x2="267.3" y2="266.6" stroke="#333333" stroke-width="0.6"/>
<text x="265" y="268.1" font-size="4.4" text-anchor="end" font-weight="normal" font-style="normal" fill="#222">-1</text>
<line x1="265.8" y1="257.35" x2="267.3" y2="257.35" stroke="#333333" stroke-width="0.6"/>
<text x="265" y="258.85" font-size="4.4" text-anchor="end" font-weight="normal" font-style="normal" fill="#222">0</text>
<line x1="265.8" y1="248.1" x2="267.3" y2="248.1" stroke="#333333" stroke-width="0.6"/>
<text x="265" y="249.6" font-size="4.4" text-anchor="end" font-weight="normal" font-style="normal" fill="#222">1</text>
<line x1="265.8" y1="238.85" x2="267.3" y2="238.85" stroke="#333333" stroke-width="0.6"/>
<text x="265" y="240.35" font-size="4.4" text-anchor="end" font-weight="normal" font-style="normal" fill="#222">2</text>
<line x1="265.8" y1="229.6" x2="267.3" y2="229.6" stroke="#333333" stroke-width="0.6"/>
<text x="265" y="231.1" font-size="4.4" text-anchor="end" font-weight="normal" font-style="normal" fill="#222">3</text>
<line x1="265.8" y1="220.35" x2="267.3" y2="220.35" stroke="#333333" stroke-width="0.6"/>
<text x="265" y="221.85" font-size="4.4" text-anchor="end" font-weight="normal" font-style="normal" fill="#222">4</text>
<line x1="265.8" y1="220.35" x2="267.3" y2="220.35" stroke="#333333" stroke-width="0.6"/>
<text x="265" y="221.85" font-size="4.4" text-anchor="end" font-weight="normal" font-style="normal" fill="#222">4</text>
<line x1="267.3" y1="266.6" x2="267.3" y2="268.1" stroke="#333333" stroke-width="0.6"/>
<text x="267.3" y="273" font-size="4.5" text-anchor="middle" font-weight="bold" font-style="normal" fill="#222">-1</text>
<line x1="276.35" y1="266.6" x2="276.35" y2="268.1" stroke="#333333" stroke-width="0.6"/>
<text x="276.35" y="273" font-size="4.5" text-anchor="middle" font-weight="bold" font-style="normal" fill="#222">0</text>
<line x1="285.4" y1="266.6" x2="285.4" y2="268.1" stroke="#333333" stroke-width="0.6"/>
<text x="285.4" y="273" font-size="4.5" text-anchor="middle" font-weight="bold" font-style="normal" fill="#222">1</text>
<line x1="294.45" y1="266.6" x2="294.45" y2="268.1" stroke="#333333" stroke-width="0.6"/>
<text x="294.45" y="273" font-size="4.5" text-anchor="middle" font-weight="bold" font-style="normal" fill="#222">2</text>
<line x1="303.5" y1="266.6" x2="303.5" y2="268.1" stroke="#333333" stroke-width="0.6"/>
<text x="303.5" y="273" font-size="4.5" text-anchor="middle" font-weight="bold" font-style="normal" fill="#222">3</text>
<line x1="312.55" y1="266.6" x2="312.55" y2="268.1" stroke="#333333" stroke-width="0.6"/>
<text x="312.55" y="273" font-size="4.5" text-anchor="middle" font-weight="bold" font-style="normal" fill="#222">4</text>
<line x1="321.6" y1="266.6" x2="321.6" y2="268.1" stroke="#333333" stroke-width="0.6"/>
<text x="321.6" y="273" font-size="4.5" text-anchor="middle" font-weight="bold" font-style="normal" fill="#222">5</text>
<text x="294.75" y="278" font-size="4.75" text-anchor="middle" font-weight="bold" font-style="normal" fill="#000">Time (s)</text>
<text x="260.5" y="243" font-size="4.6" text-anchor="middle" font-weight="bold" font-style="normal" fill="#222" transform="rotate(-90 260.5 243)">DeltaF/F(%)</text>
<linearGradient id="gF0" x1="0" y1="0" x2="1" y2="0"><stop offset="0" stop-color="#2090e0"/><stop offset="0.09" stop-color="#2090e0"/><stop offset="0.1" stop-color="#2888e0"/><stop offset="0.17" stop-color="#2888e0"/><stop offset="0.18" stop-color="#1898d8"/><stop offset="0.26" stop-color="#1898d8"/><stop offset="0.28" stop-color="#10a8c8"/><stop offset="0.34" stop-color="#10a8c8"/><stop offset="0.36" stop-color="#30b8a0"/><stop offset="0.42" stop-color="#30b8a0"/><stop offset="0.45" stop-color="#88c060"/><stop offset="0.61" stop-color="#90c050"/><stop offset="0.63" stop-color="#60c070"/><stop offset="0.67" stop-color="#48b898"/><stop offset="0.79" stop-color="#40b8a0"/><stop offset="0.81" stop-color="#20b0b0"/><stop offset="1" stop-color="#20b0b0"/></linearGradient>
<rect x="273.7" y="285.4" width="43.3" height="15.97" fill="url(#gF0)"/>
<linearGradient id="gF1" x1="0" y1="0" x2="1" y2="0"><stop offset="0" stop-color="#1898d8"/><stop offset="0.05" stop-color="#1898d8"/><stop offset="0.06" stop-color="#20b0b0"/><stop offset="0.1" stop-color="#20b0b0"/><stop offset="0.12" stop-color="#2090e0"/><stop offset="0.17" stop-color="#2090e0"/><stop offset="0.18" stop-color="#2888e0"/><stop offset="0.24" stop-color="#2888e0"/><stop offset="0.26" stop-color="#10a8c8"/><stop offset="0.34" stop-color="#10a8c8"/><stop offset="0.36" stop-color="#18b0c0"/><stop offset="0.6" stop-color="#18b0c0"/><stop offset="0.62" stop-color="#38b8a0"/><stop offset="0.65" stop-color="#38b8a0"/><stop offset="0.67" stop-color="#20b0b0"/><stop offset="0.76" stop-color="#20b0b0"/><stop offset="0.77" stop-color="#50bc90"/><stop offset="0.88" stop-color="#50bc90"/><stop offset="0.9" stop-color="#20b0b0"/><stop offset="1" stop-color="#20b0b0"/></linearGradient>
<rect x="273.7" y="300.37" width="43.3" height="15.97" fill="url(#gF1)"/>
<linearGradient id="gF2" x1="0" y1="0" x2="1" y2="0"><stop offset="0" stop-color="#2090e0"/><stop offset="0.1" stop-color="#2090e0"/><stop offset="0.12" stop-color="#18a0d0"/><stop offset="0.28" stop-color="#18a0d0"/><stop offset="0.33" stop-color="#e0b040"/><stop offset="0.52" stop-color="#e0b040"/><stop offset="0.54" stop-color="#a0bc50"/><stop offset="0.62" stop-color="#a0bc50"/><stop offset="0.63" stop-color="#70c070"/><stop offset="0.71" stop-color="#80c060"/><stop offset="0.74" stop-color="#f8c030"/><stop offset="0.88" stop-color="#f8c830"/><stop offset="1" stop-color="#f8d028"/></linearGradient>
<rect x="273.7" y="315.33" width="43.3" height="14.97" fill="url(#gF2)"/>
<text x="273.1" y="294.28" font-size="4.05" text-anchor="end" font-weight="normal" font-style="normal" fill="#111" letter-spacing="0.12" stroke="#111" stroke-width="0.12">Cue-priming</text>
<text x="273.1" y="309.25" font-size="4.05" text-anchor="end" font-weight="normal" font-style="normal" fill="#111" letter-spacing="0.12" stroke="#111" stroke-width="0.12">Extinction-1</text>
<text x="273.1" y="324.22" font-size="4.05" text-anchor="end" font-weight="normal" font-style="normal" fill="#111" letter-spacing="0.12" stroke="#111" stroke-width="0.12">Extinction-10</text>
<text x="273.7" y="335.3" font-size="3.9" text-anchor="middle" font-weight="bold" font-style="normal" fill="#222">-1</text>
<text x="280.92" y="335.3" font-size="3.9" text-anchor="middle" font-weight="bold" font-style="normal" fill="#222">0</text>
<text x="288.13" y="335.3" font-size="3.9" text-anchor="middle" font-weight="bold" font-style="normal" fill="#222">1</text>
<text x="295.35" y="335.3" font-size="3.9" text-anchor="middle" font-weight="bold" font-style="normal" fill="#222">2</text>
<text x="302.57" y="335.3" font-size="3.9" text-anchor="middle" font-weight="bold" font-style="normal" fill="#222">3</text>
<text x="309.78" y="335.3" font-size="3.9" text-anchor="middle" font-weight="bold" font-style="normal" fill="#222">4</text>
<text x="317" y="335.3" font-size="3.9" text-anchor="middle" font-weight="bold" font-style="normal" fill="#222">5</text>
<rect x="319.5" y="285.4" width="2.5" height="44.9" fill="url(#pg)"/>
<text x="323.5" y="287.4" font-size="3.3" text-anchor="start" font-weight="normal" font-style="normal" fill="#222">2</text>
<text x="323.5" y="298.62" font-size="3.3" text-anchor="start" font-weight="normal" font-style="normal" fill="#222">1</text>
<text x="323.5" y="309.85" font-size="3.3" text-anchor="start" font-weight="normal" font-style="normal" fill="#222">0</text>
<text x="323.5" y="321.07" font-size="3.3" text-anchor="start" font-weight="normal" font-style="normal" fill="#222">-1</text>
<text x="323.5" y="332.3" font-size="3.3" text-anchor="start" font-weight="normal" font-style="normal" fill="#222">-2</text>
<text x="592.6" y="41" font-size="17.2" text-anchor="start" font-weight="normal" font-style="normal" fill="#000">I</text>
<polygon points="619.8,79.96 620.49,80.29 621.18,80.62 621.87,80.84 622.56,80.79 623.25,81.09 623.94,81.06 624.63,80.95 625.33,81.25 626.02,81.35 626.71,81.3 627.4,81.63 628.09,81.79 628.78,81.45 629.47,81.09 630.16,81.04 630.85,81.07 631.54,80.76 632.23,80.39 632.92,79.76 633.61,79.37 634.3,78.71 634.99,77.71 635.69,77.16 636.38,76.41 637.07,76.08 637.76,75.81 638.45,75.79 639.14,75.65 639.83,75.28 640.52,75.18 641.21,75.24 641.9,75.27 642.59,75.4 643.28,75.43 643.97,75.35 644.66,75.46 645.35,75.51 646.05,75.4 646.74,75.39 647.43,75.88 648.12,76.05 648.81,76.21 649.5,75.88 650.19,76.02 650.88,76.39 651.57,76.35 652.26,76.18 652.95,76.31 653.64,76.67 654.33,76.69 655.02,77.2 655.71,77.72 656.41,78.05 657.1,78.17 657.79,78.51 658.48,78.58 659.17,78.68 659.86,78.96 660.55,79.21 661.24,79.75 661.93,79.8 662.62,79.88 663.31,80.16 664,80.36 664.69,80.35 665.38,80.27 666.07,80.07 666.77,79.94 667.46,80.12 668.15,80.08 668.84,79.28 669.53,78.28 670.22,77.44 670.91,77 671.6,77.15 671.6,79.24 670.91,79.58 670.22,80.17 669.53,81.15 668.84,82.02 668.15,82.96 667.46,83.12 666.77,82.88 666.07,83.15 665.38,83.12 664.69,83.16 664,83.05 663.31,82.86 662.62,82.39 661.93,82.37 661.24,82.18 660.55,81.83 659.86,81.66 659.17,81.35 658.48,81.06 657.79,80.55 657.1,80.26 656.41,79.98 655.71,79.89 655.02,79.44 654.33,79.16 653.64,78.83 652.95,78.6 652.26,78.47 651.57,78.77 650.88,78.64 650.19,78.05 649.5,78.05 648.81,78.3 648.12,78.36 647.43,78.01 646.74,77.65 646.05,77.47 645.35,77.72 644.66,77.6 643.97,77.5 643.28,77.46 642.59,77.36 641.9,77.32 641.21,77.41 640.52,77.42 639.83,77.33 639.14,77.63 638.45,77.81 637.76,78.06 637.07,78.37 636.38,78.61 635.69,79.19 634.99,79.62 634.3,80.66 633.61,81.37 632.92,81.69 632.23,82.03 631.54,82.45 630.85,82.79 630.16,83.04 629.47,83.04 628.78,83.41 628.09,83.61 627.4,83.35 626.71,82.91 626.02,82.91 625.33,82.76 624.63,82.49 623.94,82.58 623.25,82.6 622.56,82.3 621.87,82.37 621.18,82.28 620.49,81.93 619.8,81.56" fill="#ff3030" fill-opacity="0.35"/>
<polygon points="619.8,80.06 620.49,80.15 621.18,80.27 621.87,80.51 622.56,80.74 623.25,80.71 623.94,81.12 624.63,81.74 625.33,82.31 626.02,82.47 626.71,82.93 627.4,83.01 628.09,83.31 628.78,83.74 629.47,83.85 630.16,84.02 630.85,84.14 631.54,83.78 632.23,83.5 632.92,83.26 633.61,82.51 634.3,81.92 634.99,81.41 635.69,80.59 636.38,80.06 637.07,79.15 637.76,78.08 638.45,78.1 639.14,77.43 639.83,76.71 640.52,76.43 641.21,76.32 641.9,76.3 642.59,76.33 643.28,76.07 643.97,75.64 644.66,75.32 645.35,74.9 646.05,74.83 646.74,75.13 647.43,75.24 648.12,75.57 648.81,75.66 649.5,75.49 650.19,75.73 650.88,75.9 651.57,76.24 652.26,76.56 652.95,76.81 653.64,76.8 654.33,76.78 655.02,76.89 655.71,76.98 656.41,77.25 657.1,77.24 657.79,77.13 658.48,77.08 659.17,77.3 659.86,77.29 660.55,77.41 661.24,77.42 661.93,77.46 662.62,77.56 663.31,77.63 664,77.59 664.69,77.52 665.38,77.71 666.07,77.67 666.77,77.67 667.46,77.41 668.15,77.66 668.84,77.55 669.53,77.38 670.22,77.85 670.91,78.36 671.6,78.21 671.6,80.23 670.91,80.29 670.22,79.99 669.53,79.68 668.84,80.04 668.15,80.03 667.46,79.7 666.77,79.91 666.07,79.77 665.38,79.84 664.69,79.62 664,79.66 663.31,79.59 662.62,79.44 661.93,79.46 661.24,79.61 660.55,79.59 659.86,79.59 659.17,79.45 658.48,79.25 657.79,79.21 657.1,79.31 656.41,79.44 655.71,79.16 655.02,79.13 654.33,78.98 653.64,78.94 652.95,79 652.26,78.77 651.57,78.38 650.88,78.12 650.19,77.86 649.5,77.66 648.81,77.77 648.12,77.71 647.43,77.3 646.74,77.07 646.05,76.95 645.35,77.07 644.66,77.22 643.97,77.04 643.28,77.41 642.59,77.92 641.9,78.33 641.21,78.58 640.52,78.77 639.83,78.91 639.14,79.57 638.45,80.06 637.76,80.16 637.07,81.17 636.38,82.3 635.69,82.67 634.99,83.54 634.3,83.79 633.61,84.42 632.92,85.07 632.23,85.34 631.54,85.43 630.85,85.77 630.16,85.54 629.47,85.51 628.78,85.41 628.09,85.21 627.4,84.91 626.71,84.7 626.02,84.06 625.33,83.77 624.63,83.25 623.94,82.53 623.25,82.17 622.56,82.1 621.87,81.84 621.18,81.61 620.49,81.57 619.8,81.58" fill="#20b040" fill-opacity="0.4"/>
<polygon points="619.8,81.04 620.49,80.76 621.18,80.64 621.87,80.68 622.56,80.54 623.25,80.56 623.94,80.29 624.63,79.97 625.33,79.94 626.02,80.05 626.71,79.78 627.4,79.56 628.09,79.54 628.78,80.08 629.47,80.11 630.16,80.15 630.85,80.74 631.54,80.97 632.23,81.51 632.92,81.42 633.61,81.08 634.3,80.04 634.99,78.66 635.69,77.21 636.38,75.75 637.07,75.41 637.76,75.06 638.45,74.79 639.14,74.12 639.83,73.66 640.52,73.63 641.21,73.8 641.9,72.83 642.59,72.97 643.28,72.38 643.97,73.8 644.66,73.89 645.35,73.98 646.05,73.39 646.74,73.51 647.43,72.52 648.12,72.95 648.81,73.2 649.5,73.47 650.19,73.72 650.88,74 651.57,73.73 652.26,73.56 652.95,73.7 653.64,74.38 654.33,74.76 655.02,74.38 655.71,74.22 656.41,73.81 657.1,74.21 657.79,74.37 658.48,75.85 659.17,76.12 659.86,76.3 660.55,75.63 661.24,75.42 661.93,75.33 662.62,75.17 663.31,75.55 664,75.38 664.69,76.27 665.38,76.52 666.07,76.92 666.77,76.83 667.46,77.72 668.15,77.79 668.84,78.61 669.53,78.84 670.22,78.62 670.91,78.42 671.6,78.79 671.6,85.71 670.91,84.61 670.22,84.16 669.53,84.6 668.84,84.59 668.15,84.16 667.46,84.01 666.77,83.74 666.07,83.49 665.38,83.74 664.69,83.42 664,83.27 663.31,82.66 662.62,82.62 661.93,82.43 661.24,83.36 660.55,82.99 659.86,83.17 659.17,83.06 658.48,82.7 657.79,82.49 657.1,81.48 656.41,81.98 655.71,81.77 655.02,82.49 654.33,82.53 653.64,83.23 652.95,83.33 652.26,83.38 651.57,83.44 650.88,84.22 650.19,84.68 649.5,84.76 648.81,84.57 648.12,83.96 647.43,83 646.74,82.75 646.05,83.08 645.35,83 644.66,83.92 643.97,83.27 643.28,84.19 642.59,84.1 641.9,83.99 641.21,83.34 640.52,83.35 639.83,83.28 639.14,83.72 638.45,83.81 637.76,84.23 637.07,84.11 636.38,84.36 635.69,84.32 634.99,84.36 634.3,84.97 633.61,85.19 632.92,85.21 632.23,84.62 631.54,84.26 630.85,83.85 630.16,83.18 629.47,82.42 628.78,81.96 628.09,81.26 627.4,81.42 626.71,81.6 626.02,81.84 625.33,81.69 624.63,81.55 623.94,81.71 623.25,82.05 622.56,82.21 621.87,82.36 621.18,82.27 620.49,82.22 619.8,82.38" fill="#3030ff" fill-opacity="0.44"/>
<polyline points="619.8,80.66 620.49,81.04 621.18,81.43 621.87,81.62 622.56,81.56 623.25,81.85 623.94,81.86 624.63,81.78 625.33,82.1 626.02,82.15 626.71,82.13 627.4,82.47 628.09,82.75 628.78,82.47 629.47,82.11 630.16,81.97 630.85,81.89 631.54,81.6 632.23,81.26 632.92,80.65 633.61,80.27 634.3,79.58 634.99,78.68 635.69,78.12 636.38,77.53 637.07,77.2 637.76,77.01 638.45,76.83 639.14,76.68 639.83,76.32 640.52,76.23 641.21,76.25 641.9,76.23 642.59,76.33 643.28,76.4 643.97,76.38 644.66,76.52 645.35,76.58 646.05,76.32 646.74,76.36 647.43,76.72 648.12,77.06 648.81,77.25 649.5,77.03 650.19,77.04 650.88,77.47 651.57,77.57 652.26,77.33 652.95,77.45 653.64,77.79 654.33,77.96 655.02,78.35 655.71,78.85 656.41,79.18 657.1,79.39 657.79,79.6 658.48,79.77 659.17,80 659.86,80.33 660.55,80.57 661.24,80.95 661.93,81.13 662.62,81.16 663.31,81.53 664,81.65 664.69,81.71 665.38,81.71 666.07,81.56 666.77,81.37 667.46,81.49 668.15,81.46 668.84,80.67 669.53,79.72 670.22,78.8 670.91,78.12 671.6,78.01" fill="none" stroke="#ff3030" stroke-width="0.9"/>
<polyline points="619.8,80.81 620.49,80.91 621.18,81.01 621.87,81.21 622.56,81.4 623.25,81.46 623.94,81.85 624.63,82.59 625.33,83.11 626.02,83.43 626.71,83.9 627.4,84.09 628.09,84.25 628.78,84.6 629.47,84.63 630.16,84.79 630.85,84.9 631.54,84.61 632.23,84.3 632.92,84.14 633.61,83.46 634.3,82.91 634.99,82.47 635.69,81.6 636.38,81.22 637.07,80.29 637.76,79.31 638.45,79.19 639.14,78.48 639.83,77.78 640.52,77.53 641.21,77.28 641.9,77.02 642.59,76.92 643.28,76.66 643.97,76.34 644.66,76.28 645.35,75.98 646.05,75.95 646.74,76.16 647.43,76.31 648.12,76.6 648.81,76.68 649.5,76.55 650.19,76.72 650.88,76.96 651.57,77.34 652.26,77.73 652.95,77.96 653.64,77.84 654.33,77.8 655.02,77.86 655.71,77.98 656.41,78.27 657.1,78.19 657.79,78.06 658.48,78.1 659.17,78.24 659.86,78.29 660.55,78.33 661.24,78.52 661.93,78.58 662.62,78.5 663.31,78.56 664,78.51 664.69,78.63 665.38,78.75 666.07,78.74 666.77,78.72 667.46,78.62 668.15,78.84 668.84,78.91 669.53,78.56 670.22,78.87 670.91,79.28 671.6,79.23" fill="none" stroke="#20b040" stroke-width="0.9"/>
<polyline points="619.8,81.73 620.49,81.48 621.18,81.38 621.87,81.47 622.56,81.34 623.25,81.31 623.94,81.05 624.63,80.75 625.33,80.82 626.02,80.83 626.71,80.67 627.4,80.38 628.09,80.37 628.78,80.88 629.47,81.26 630.16,81.68 630.85,82.31 631.54,82.52 632.23,82.86 632.92,83.18 633.61,83.05 634.3,82.61 634.99,81.64 635.69,80.89 636.38,80.29 637.07,79.88 637.76,79.78 638.45,79.4 639.14,79.02 639.83,78.95 640.52,78.9 641.21,78.67 641.9,78.61 642.59,78.87 643.28,78.93 643.97,78.65 644.66,78.61 645.35,78.57 646.05,78.68 646.74,78.82 647.43,78.54 648.12,78.73 648.81,78.94 649.5,78.65 650.19,78.73 650.88,78.72 651.57,78.6 652.26,78.65 652.95,78.58 653.64,78.52 654.33,78.59 655.02,78.66 655.71,78.74 656.41,78.76 657.1,78.55 657.79,78.68 658.48,78.96 659.17,79.22 659.86,79.24 660.55,79.27 661.24,79.55 661.93,79.47 662.62,79.45 663.31,79.52 664,79.53 664.69,79.94 665.38,80.31 666.07,80.21 666.77,80.31 667.46,80.65 668.15,80.8 668.84,81.18 669.53,81.47 670.22,81.41 670.91,81.46 671.6,81.88" fill="none" stroke="#3030ff" stroke-width="0.9"/>
<line x1="619.8" y1="46.9" x2="619.8" y2="91.2" stroke="#444" stroke-width="0.8"/>
<line x1="619.8" y1="90.8" x2="671.6" y2="90.8" stroke="#444" stroke-width="0.8"/>
<line x1="618.3" y1="90.8" x2="619.8" y2="90.8" stroke="#333333" stroke-width="0.6"/>
<text x="617.5" y="92.3" font-size="4.4" text-anchor="end" font-weight="normal" font-style="normal" fill="#222">-1</text>
<line x1="618.3" y1="82.08" x2="619.8" y2="82.08" stroke="#333333" stroke-width="0.6"/>
<text x="617.5" y="83.58" font-size="4.4" text-anchor="end" font-weight="normal" font-style="normal" fill="#222">0</text>
<line x1="618.3" y1="73.36" x2="619.8" y2="73.36" stroke="#333333" stroke-width="0.6"/>
<text x="617.5" y="74.86" font-size="4.4" text-anchor="end" font-weight="normal" font-style="normal" fill="#222">1</text>
<line x1="618.3" y1="64.64" x2="619.8" y2="64.64" stroke="#333333" stroke-width="0.6"/>
<text x="617.5" y="66.14" font-size="4.4" text-anchor="end" font-weight="normal" font-style="normal" fill="#222">2</text>
<line x1="618.3" y1="55.92" x2="619.8" y2="55.92" stroke="#333333" stroke-width="0.6"/>
<text x="617.5" y="57.42" font-size="4.4" text-anchor="end" font-weight="normal" font-style="normal" fill="#222">3</text>
<line x1="618.3" y1="47.2" x2="619.8" y2="47.2" stroke="#333333" stroke-width="0.6"/>
<text x="617.5" y="48.7" font-size="4.4" text-anchor="end" font-weight="normal" font-style="normal" fill="#222">4</text>
<line x1="618.3" y1="47.2" x2="619.8" y2="47.2" stroke="#333333" stroke-width="0.6"/>
<text x="617.5" y="48.7" font-size="4.4" text-anchor="end" font-weight="normal" font-style="normal" fill="#222">4</text>
<line x1="619.8" y1="90.8" x2="619.8" y2="92.3" stroke="#333333" stroke-width="0.6"/>
<text x="619.8" y="97.2" font-size="4.5" text-anchor="middle" font-weight="bold" font-style="normal" fill="#222">-1</text>
<line x1="628.43" y1="90.8" x2="628.43" y2="92.3" stroke="#333333" stroke-width="0.6"/>
<text x="628.43" y="97.2" font-size="4.5" text-anchor="middle" font-weight="bold" font-style="normal" fill="#222">0</text>
<line x1="637.07" y1="90.8" x2="637.07" y2="92.3" stroke="#333333" stroke-width="0.6"/>
<text x="637.07" y="97.2" font-size="4.5" text-anchor="middle" font-weight="bold" font-style="normal" fill="#222">1</text>
<line x1="645.7" y1="90.8" x2="645.7" y2="92.3" stroke="#333333" stroke-width="0.6"/>
<text x="645.7" y="97.2" font-size="4.5" text-anchor="middle" font-weight="bold" font-style="normal" fill="#222">2</text>
<line x1="654.33" y1="90.8" x2="654.33" y2="92.3" stroke="#333333" stroke-width="0.6"/>
<text x="654.33" y="97.2" font-size="4.5" text-anchor="middle" font-weight="bold" font-style="normal" fill="#222">3</text>
<line x1="662.97" y1="90.8" x2="662.97" y2="92.3" stroke="#333333" stroke-width="0.6"/>
<text x="662.97" y="97.2" font-size="4.5" text-anchor="middle" font-weight="bold" font-style="normal" fill="#222">4</text>
<line x1="671.6" y1="90.8" x2="671.6" y2="92.3" stroke="#333333" stroke-width="0.6"/>
<text x="671.6" y="97.2" font-size="4.5" text-anchor="middle" font-weight="bold" font-style="normal" fill="#222">5</text>
<text x="646" y="102.2" font-size="4.75" text-anchor="middle" font-weight="bold" font-style="normal" fill="#000">Time (s)</text>
<text x="613.6" y="69" font-size="4.4" text-anchor="middle" font-weight="bold" font-style="normal" fill="#222" transform="rotate(-90 613.6 69)">DeltaF/F(%)</text>
<line x1="620.4" y1="45" x2="626.1" y2="45" stroke="#1010ff" stroke-width="1.7"/>
<text x="626.5" y="46.2" font-size="3.4" text-anchor="start" font-weight="normal" font-style="normal" fill="#111" stroke="#111" stroke-width="0.08">Ext-1</text>
<line x1="637.4" y1="45" x2="643.1" y2="45" stroke="#20b848" stroke-width="1.7"/>
<text x="643.5" y="46.2" font-size="3.4" text-anchor="start" font-weight="normal" font-style="normal" fill="#111" stroke="#111" stroke-width="0.08">Ext-10</text>
<line x1="655.7" y1="45" x2="661.4" y2="45" stroke="#ff1010" stroke-width="1.7"/>
<text x="661.8" y="46.2" font-size="3.4" text-anchor="start" font-weight="normal" font-style="normal" fill="#111" stroke="#111" stroke-width="0.08">Cue-priming</text>
<linearGradient id="gI0" x1="0" y1="0" x2="1" y2="0"><stop offset="0" stop-color="#22b0b0"/><stop offset="0.2" stop-color="#22b0b0"/><stop offset="0.27" stop-color="#30b4a8"/><stop offset="0.33" stop-color="#48b898"/><stop offset="0.39" stop-color="#68c078"/><stop offset="0.68" stop-color="#66c07a"/><stop offset="0.72" stop-color="#58bc88"/><stop offset="0.78" stop-color="#50bb8e"/><stop offset="0.81" stop-color="#40b8a0"/><stop offset="1" stop-color="#40b8a0"/></linearGradient>
<rect x="627.8" y="108.9" width="40.2" height="14.63" fill="url(#gI0)"/>
<linearGradient id="gI1" x1="0" y1="0" x2="1" y2="0"><stop offset="0" stop-color="#20b0b0"/><stop offset="0.14" stop-color="#20b0b0"/><stop offset="0.16" stop-color="#1ea6d0"/><stop offset="0.27" stop-color="#1ea6d0"/><stop offset="0.3" stop-color="#22b0b0"/><stop offset="0.35" stop-color="#30b4a8"/><stop offset="0.4" stop-color="#5cbe84"/><stop offset="0.65" stop-color="#5cbe84"/><stop offset="0.68" stop-color="#48b898"/><stop offset="1" stop-color="#48b898"/></linearGradient>
<rect x="627.8" y="122.53" width="40.2" height="14.63" fill="url(#gI1)"/>
<linearGradient id="gI2" x1="0" y1="0" x2="1" y2="0"><stop offset="0" stop-color="#20b0b0"/><stop offset="0.14" stop-color="#22b0b0"/><stop offset="0.16" stop-color="#2ab4aa"/><stop offset="0.23" stop-color="#2ab4aa"/><stop offset="0.26" stop-color="#1aaec0"/><stop offset="0.55" stop-color="#1eb0ba"/><stop offset="1" stop-color="#24b2b0"/></linearGradient>
<rect x="627.8" y="136.17" width="40.2" height="13.63" fill="url(#gI2)"/>
<text x="627.2" y="117.92" font-size="3.75" text-anchor="end" font-weight="normal" font-style="normal" fill="#111" letter-spacing="0.12" stroke="#111" stroke-width="0.12">Cue-priming</text>
<text x="627.2" y="131.55" font-size="3.75" text-anchor="end" font-weight="normal" font-style="normal" fill="#111" letter-spacing="0.12" stroke="#111" stroke-width="0.12">Extinction-1</text>
<text x="627.2" y="145.18" font-size="3.75" text-anchor="end" font-weight="normal" font-style="normal" fill="#111" letter-spacing="0.12" stroke="#111" stroke-width="0.12">Extinction-10</text>
<text x="627.8" y="154.8" font-size="3.9" text-anchor="middle" font-weight="bold" font-style="normal" fill="#222">-1</text>
<text x="634.5" y="154.8" font-size="3.9" text-anchor="middle" font-weight="bold" font-style="normal" fill="#222">0</text>
<text x="641.2" y="154.8" font-size="3.9" text-anchor="middle" font-weight="bold" font-style="normal" fill="#222">1</text>
<text x="647.9" y="154.8" font-size="3.9" text-anchor="middle" font-weight="bold" font-style="normal" fill="#222">2</text>
<text x="654.6" y="154.8" font-size="3.9" text-anchor="middle" font-weight="bold" font-style="normal" fill="#222">3</text>
<text x="661.3" y="154.8" font-size="3.9" text-anchor="middle" font-weight="bold" font-style="normal" fill="#222">4</text>
<text x="668" y="154.8" font-size="3.9" text-anchor="middle" font-weight="bold" font-style="normal" fill="#222">5</text>
<rect x="669.8" y="108.9" width="2.4" height="40.9" fill="url(#pg)"/>
<text x="673.7" y="110.9" font-size="3.3" text-anchor="start" font-weight="normal" font-style="normal" fill="#222">2</text>
<text x="673.7" y="121.12" font-size="3.3" text-anchor="start" font-weight="normal" font-style="normal" fill="#222">1</text>
<text x="673.7" y="131.35" font-size="3.3" text-anchor="start" font-weight="normal" font-style="normal" fill="#222">0</text>
<text x="673.7" y="141.58" font-size="3.3" text-anchor="start" font-weight="normal" font-style="normal" fill="#222">-1</text>
<text x="673.7" y="151.8" font-size="3.3" text-anchor="start" font-weight="normal" font-style="normal" fill="#222">-2</text>
<text x="597.3" y="225.7" font-size="17.2" text-anchor="start" font-weight="normal" font-style="normal" fill="#000">L</text>
<polygon points="625.1,257.57 625.87,257.76 626.63,257.88 627.4,257.99 628.16,257.86 628.93,258.18 629.69,258.16 630.46,258.1 631.22,258.49 631.99,258.71 632.75,258.66 633.52,259.06 634.28,259.32 635.05,259.36 635.81,259.69 636.58,260.57 637.35,261.54 638.11,261.96 638.88,262.19 639.64,262.09 640.41,262.28 641.17,262.13 641.94,261.41 642.7,261.1 643.47,260.37 644.23,260.12 645,259.78 645.76,259.81 646.53,259.62 647.29,259.15 648.06,258.96 648.83,258.91 649.59,258.75 650.36,258.63 651.12,258.32 651.89,257.87 652.65,257.65 653.42,257.46 654.18,257.37 654.95,257.24 655.71,257.93 656.48,257.91 657.24,258.06 658.01,257.58 658.77,257.93 659.54,258.19 660.31,257.93 661.07,257.84 661.84,257.93 662.6,258.25 663.37,257.86 664.13,258.34 664.9,258.56 665.66,258.53 666.43,258.16 667.19,258.28 667.96,257.72 668.72,256.88 669.49,256.17 670.25,255.45 671.02,255.33 671.79,254.2 672.55,253.46 673.32,252.8 674.08,252.52 674.85,251.76 675.61,250.93 676.38,250.13 677.14,250 677.91,250.56 678.67,251.07 679.44,251 680.2,250.67 680.97,250.83 681.73,251.68 682.5,253.06 682.5,260.25 681.73,260.6 680.97,260.25 680.2,260.56 679.44,260.44 678.67,261.01 677.91,260.92 677.14,260.13 676.38,260.65 675.61,260.45 674.85,260.96 674.08,261.15 673.32,261.27 672.55,261.11 671.79,261.76 671.02,262.23 670.25,262.6 669.49,263.23 668.72,263.56 667.96,263.72 667.19,263.26 666.43,263.31 665.66,263.35 664.9,264.05 664.13,264.05 663.37,264.25 662.6,263.82 661.84,263.85 661.07,263.77 660.31,264.2 659.54,264.02 658.77,263.05 658.01,262.95 657.24,263.12 656.48,263.36 655.71,262.82 654.95,262.32 654.18,261.88 653.42,262.15 652.65,262.05 651.89,262.15 651.12,262.22 650.36,262.26 649.59,262.4 648.83,262.67 648.06,262.82 647.29,262.69 646.53,263.03 645.76,263.3 645,263.67 644.23,264.08 643.47,264.26 642.7,264.8 641.94,264.99 641.17,265.91 640.41,266.25 639.64,266.06 638.88,265.58 638.11,265.46 637.35,265.12 636.58,264.71 635.81,263.73 635.05,263.43 634.28,263 633.52,262.34 632.75,261.54 631.99,261.33 631.22,261.03 630.46,260.73 629.69,260.79 628.93,260.84 628.16,260.56 627.4,260.78 626.63,260.98 625.87,260.87 625.1,260.68" fill="#ff3030" fill-opacity="0.36"/>
<polygon points="643.28,262.19 644.04,262.09 644.81,262.06 645.57,262.07 646.34,262.32 647.1,262.13 647.87,262.54 648.63,263.09 649.4,262.87 650.16,262.61 650.93,262.31 651.7,262.08 652.46,261.85 653.23,261.81 653.99,261.91 654.76,262.13 654.76,263.73 653.99,264.04 653.23,264.66 652.46,265.2 651.7,265.82 650.93,266.27 650.16,266.21 649.4,266.32 648.63,266.39 647.87,266.13 647.1,265.95 646.34,265.69 645.57,265.2 644.81,264.57 644.04,264.24 643.28,263.85" fill="#30b8e0" fill-opacity="0.36"/>
<polygon points="625.1,259.91 625.87,259.28 626.63,258.78 627.4,258.45 628.16,257.97 628.93,257.69 629.69,257.07 630.46,256.26 631.22,255.15 631.99,254.79 632.75,253.66 633.52,253.08 634.28,251.35 635.05,250.31 635.81,250.32 636.58,249.95 637.35,249.64 638.11,248.48 638.88,248.88 639.64,248.67 640.41,248.86 641.17,248 641.94,248.48 642.7,247.96 643.47,249 644.23,250.63 645,252.07 645.76,252.01 646.53,251.86 647.29,252.54 648.06,252.98 648.83,253.11 649.59,252.6 650.36,252.51 651.12,252.76 651.89,253.01 652.65,253.34 653.42,254.1 654.18,253.43 654.95,253.5 655.71,253.58 656.48,254.7 657.24,254.79 658.01,255.77 658.77,255.32 659.54,255.52 660.31,254.13 661.07,254.31 661.84,253.73 662.6,253.45 663.37,252.52 664.13,252.38 664.9,252.37 665.66,253.52 666.43,253.89 667.19,254.17 667.96,253.79 668.72,254.18 669.49,253.82 670.25,254.23 671.02,255.2 671.79,257.29 672.55,258.99 673.32,259.8 674.08,259.02 674.85,258.43 675.61,259.2 676.38,259.86 677.14,259.38 677.91,258.75 678.67,258.74 679.44,258.45 680.2,258.06 680.97,257.94 681.73,258.22 682.5,257.73 682.5,266.41 681.73,266.92 680.97,266.72 680.2,267 679.44,266.91 678.67,266.9 677.91,267.23 677.14,267.43 676.38,267.72 675.61,267.44 674.85,267.2 674.08,267.81 673.32,267.36 672.55,266.62 671.79,266.11 671.02,265.91 670.25,265.51 669.49,264.77 668.72,264.49 667.96,263.62 667.19,262.5 666.43,261.25 665.66,260.83 664.9,260.5 664.13,260.89 663.37,260.65 662.6,260.56 661.84,261.05 661.07,261.87 660.31,263.33 659.54,263.72 658.77,263.82 658.01,263.45 657.24,263.02 656.48,262.86 655.71,262.76 654.95,262.43 654.18,262.08 653.42,261.52 652.65,261.14 651.89,261.24 651.12,260.94 650.36,260.78 649.59,260.49 648.83,260.89 648.06,261.07 647.29,261.11 646.53,261.3 645.76,261.29 645,261.12 644.23,260.97 643.47,260.44 642.7,260.71 641.94,260.82 641.17,259.97 640.41,260.63 639.64,259.82 638.88,260.19 638.11,259.68 637.35,260.52 636.58,260.24 635.81,260.08 635.05,260.3 634.28,261.81 633.52,262.98 632.75,263.59 631.99,263.49 631.22,263.4 630.46,263.63 629.69,263.86 628.93,264.3 628.16,264.18 627.4,264.43 626.63,264.27 625.87,264.27 625.1,264.43" fill="#3030ff" fill-opacity="0.45"/>
<polyline points="625.1,258.95 625.87,259.18 626.63,259.4 627.4,259.41 628.16,259.24 628.93,259.51 629.69,259.55 630.46,259.52 631.22,259.91 631.99,260.06 632.75,260.14 633.52,260.67 634.28,261.25 635.05,261.46 635.81,261.8 636.58,262.49 637.35,263.25 638.11,263.7 638.88,263.98 639.64,263.91 640.41,264.06 641.17,263.83 641.94,263.23 642.7,262.86 643.47,262.35 644.23,262.06 645,261.85 645.76,261.61 646.53,261.38 647.29,260.94 648.06,260.76 648.83,260.66 649.59,260.47 650.36,260.35 651.12,260.19 651.89,259.92 652.65,259.84 653.42,259.73 654.18,259.37 654.95,259.43 655.71,259.87 656.48,260.29 657.24,260.57 658.01,260.43 658.77,260.51 659.54,260.98 660.31,261.08 661.07,260.8 661.84,260.88 662.6,261.14 663.37,261.14 664.13,261.26 664.9,261.41 665.66,261.35 666.43,261.17 667.19,260.94 667.96,260.59 668.72,260.18 669.49,259.75 670.25,259.18 671.02,258.72 671.79,258.09 672.55,257.37 673.32,257.09 674.08,256.65 674.85,256.21 675.61,255.75 676.38,255.24 677.14,254.94 677.91,255.3 678.67,255.84 679.44,255.79 680.2,255.65 680.97,255.53 681.73,255.57 682.5,256.02" fill="none" stroke="#ff3030" stroke-width="0.9"/>
<polyline points="643.28,263.03 644.04,263.2 644.81,263.4 645.57,263.7 646.34,263.96 647.1,263.95 647.87,264.12 648.63,264.49 649.4,264.54 650.16,264.35 650.93,264.27 651.7,263.86 652.46,263.45 653.23,263.33 653.99,263.02 654.76,262.99" fill="none" stroke="#30b8e0" stroke-width="0.9"/>
<polyline points="625.1,262.23 625.87,261.7 626.63,261.32 627.4,261.04 628.16,260.83 628.93,260.75 629.69,260.2 630.46,259.54 631.22,259.04 631.99,258.6 632.75,257.98 633.52,257.26 634.28,256.62 635.05,255.9 635.81,255.19 636.58,254.82 637.35,254.47 638.11,254.4 638.88,254.41 639.64,254.37 640.41,254.36 641.17,254.3 641.94,254.64 642.7,254.92 643.47,254.86 644.23,255.56 645,256.38 645.76,256.72 646.53,256.98 647.29,256.83 648.06,256.81 648.83,257.03 649.59,256.81 650.36,256.73 651.12,256.7 651.89,256.74 652.65,256.96 653.42,257.38 654.18,257.45 654.95,257.53 655.71,258.12 656.48,258.49 657.24,258.92 658.01,259.26 658.77,259.34 659.54,259.32 660.31,259 661.07,258.58 661.84,258.03 662.6,257.28 663.37,257.03 664.13,256.76 664.9,256.74 665.66,257.02 666.43,257.33 667.19,257.77 667.96,258.41 668.72,259.04 669.49,259.21 670.25,259.81 671.02,260.85 671.79,261.59 672.55,262.22 673.32,262.81 674.08,263.1 674.85,263.14 675.61,263.51 676.38,263.77 677.14,263.68 677.91,263.56 678.67,263.4 679.44,263.25 680.2,262.99 680.97,262.95 681.73,262.72 682.5,262.31" fill="none" stroke="#3030ff" stroke-width="0.9"/>
<line x1="625.1" y1="223.55" x2="625.1" y2="269.4" stroke="#444" stroke-width="0.8"/>
<line x1="625.1" y1="269" x2="682.5" y2="269" stroke="#444" stroke-width="0.8"/>
<line x1="623.6" y1="269" x2="625.1" y2="269" stroke="#333333" stroke-width="0.6"/>
<text x="622.8" y="270.5" font-size="4.4" text-anchor="end" font-weight="normal" font-style="normal" fill="#222">-1</text>
<line x1="623.6" y1="259.97" x2="625.1" y2="259.97" stroke="#333333" stroke-width="0.6"/>
<text x="622.8" y="261.47" font-size="4.4" text-anchor="end" font-weight="normal" font-style="normal" fill="#222">0</text>
<line x1="623.6" y1="250.94" x2="625.1" y2="250.94" stroke="#333333" stroke-width="0.6"/>
<text x="622.8" y="252.44" font-size="4.4" text-anchor="end" font-weight="normal" font-style="normal" fill="#222">1</text>
<line x1="623.6" y1="241.91" x2="625.1" y2="241.91" stroke="#333333" stroke-width="0.6"/>
<text x="622.8" y="243.41" font-size="4.4" text-anchor="end" font-weight="normal" font-style="normal" fill="#222">2</text>
<line x1="623.6" y1="232.88" x2="625.1" y2="232.88" stroke="#333333" stroke-width="0.6"/>
<text x="622.8" y="234.38" font-size="4.4" text-anchor="end" font-weight="normal" font-style="normal" fill="#222">3</text>
<line x1="623.6" y1="223.85" x2="625.1" y2="223.85" stroke="#333333" stroke-width="0.6"/>
<text x="622.8" y="225.35" font-size="4.4" text-anchor="end" font-weight="normal" font-style="normal" fill="#222">4</text>
<line x1="623.6" y1="223.85" x2="625.1" y2="223.85" stroke="#333333" stroke-width="0.6"/>
<text x="622.8" y="225.35" font-size="4.4" text-anchor="end" font-weight="normal" font-style="normal" fill="#222">4</text>
<line x1="625.1" y1="269" x2="625.1" y2="270.5" stroke="#333333" stroke-width="0.6"/>
<text x="625.1" y="275.4" font-size="4.5" text-anchor="middle" font-weight="bold" font-style="normal" fill="#222">-1</text>
<line x1="634.67" y1="269" x2="634.67" y2="270.5" stroke="#333333" stroke-width="0.6"/>
<text x="634.67" y="275.4" font-size="4.5" text-anchor="middle" font-weight="bold" font-style="normal" fill="#222">0</text>
<line x1="644.23" y1="269" x2="644.23" y2="270.5" stroke="#333333" stroke-width="0.6"/>
<text x="644.23" y="275.4" font-size="4.5" text-anchor="middle" font-weight="bold" font-style="normal" fill="#222">1</text>
<line x1="653.8" y1="269" x2="653.8" y2="270.5" stroke="#333333" stroke-width="0.6"/>
<text x="653.8" y="275.4" font-size="4.5" text-anchor="middle" font-weight="bold" font-style="normal" fill="#222">2</text>
<line x1="663.37" y1="269" x2="663.37" y2="270.5" stroke="#333333" stroke-width="0.6"/>
<text x="663.37" y="275.4" font-size="4.5" text-anchor="middle" font-weight="bold" font-style="normal" fill="#222">3</text>
<line x1="672.93" y1="269" x2="672.93" y2="270.5" stroke="#333333" stroke-width="0.6"/>
<text x="672.93" y="275.4" font-size="4.5" text-anchor="middle" font-weight="bold" font-style="normal" fill="#222">4</text>
<line x1="682.5" y1="269" x2="682.5" y2="270.5" stroke="#333333" stroke-width="0.6"/>
<text x="682.5" y="275.4" font-size="4.5" text-anchor="middle" font-weight="bold" font-style="normal" fill="#222">5</text>
<text x="654.1" y="280.4" font-size="4.75" text-anchor="middle" font-weight="bold" font-style="normal" fill="#000">Time (s)</text>
<text x="619" y="246.5" font-size="4.6" text-anchor="middle" font-weight="bold" font-style="normal" fill="#222" transform="rotate(-90 619 246.5)">DeltaF/F(%)</text>
<linearGradient id="gL0" x1="0" y1="0" x2="1" y2="0"><stop offset="0" stop-color="#18b0b8"/><stop offset="0.13" stop-color="#18b0b8"/><stop offset="0.15" stop-color="#16aac4"/><stop offset="0.25" stop-color="#14a8c6"/><stop offset="0.27" stop-color="#12a8c8"/><stop offset="0.35" stop-color="#1aa4d0"/><stop offset="0.37" stop-color="#2898e0"/><stop offset="0.47" stop-color="#2898e0"/><stop offset="0.49" stop-color="#18aac4"/><stop offset="0.59" stop-color="#1aacc0"/><stop offset="0.62" stop-color="#22b2b0"/><stop offset="0.8" stop-color="#28b4aa"/><stop offset="1" stop-color="#30b6a6"/></linearGradient>
<rect x="631.1" y="283.8" width="44.8" height="16.4" fill="url(#gL0)"/>
<linearGradient id="gL1" x1="0" y1="0" x2="1" y2="0"><stop offset="0" stop-color="#18b0b8"/><stop offset="0.09" stop-color="#18b0b8"/><stop offset="0.11" stop-color="#10a8c8"/><stop offset="0.19" stop-color="#10a8c8"/><stop offset="0.21" stop-color="#2898e0"/><stop offset="0.31" stop-color="#2898e0"/><stop offset="0.33" stop-color="#18b0b8"/><stop offset="0.56" stop-color="#20b0b0"/><stop offset="0.58" stop-color="#12a8c8"/><stop offset="0.7" stop-color="#12a8c8"/><stop offset="0.71" stop-color="#30b4a8"/><stop offset="0.81" stop-color="#34b6a4"/><stop offset="0.84" stop-color="#58be88"/><stop offset="1" stop-color="#58be88"/></linearGradient>
<rect x="631.1" y="299.2" width="44.8" height="16.4" fill="url(#gL1)"/>
<linearGradient id="gL2" x1="0" y1="0" x2="1" y2="0"><stop offset="0" stop-color="#18b0c0"/><stop offset="0.08" stop-color="#18b0c0"/><stop offset="0.1" stop-color="#48baa0"/><stop offset="0.14" stop-color="#60bc88"/><stop offset="0.16" stop-color="#88c860"/><stop offset="0.3" stop-color="#88c860"/><stop offset="0.32" stop-color="#58bc8c"/><stop offset="0.46" stop-color="#50bc90"/><stop offset="0.48" stop-color="#22b2b0"/><stop offset="0.59" stop-color="#22b2b0"/><stop offset="0.61" stop-color="#50bc90"/><stop offset="0.75" stop-color="#58bc88"/><stop offset="0.77" stop-color="#2a98e0"/><stop offset="0.95" stop-color="#2a98e0"/><stop offset="1" stop-color="#20a0d8"/></linearGradient>
<rect x="631.1" y="314.6" width="44.8" height="15.4" fill="url(#gL2)"/>
<text x="630.5" y="293.1" font-size="4.25" text-anchor="end" font-weight="normal" font-style="normal" fill="#111" letter-spacing="0.12" stroke="#111" stroke-width="0.12">Cue-priming</text>
<text x="630.5" y="308.5" font-size="4.25" text-anchor="end" font-weight="normal" font-style="normal" fill="#111" letter-spacing="0.12" stroke="#111" stroke-width="0.12">Extinction-1</text>
<text x="630.5" y="323.9" font-size="4.25" text-anchor="end" font-weight="normal" font-style="normal" fill="#111" letter-spacing="0.12" stroke="#111" stroke-width="0.12">Extinction-10</text>
<text x="638.57" y="335" font-size="3.9" text-anchor="middle" font-weight="bold" font-style="normal" fill="#222">0</text>
<text x="653.5" y="335" font-size="3.9" text-anchor="middle" font-weight="bold" font-style="normal" fill="#222">2</text>
<text x="668.43" y="335" font-size="3.9" text-anchor="middle" font-weight="bold" font-style="normal" fill="#222">4</text>
<rect x="676.9" y="283.8" width="2.9" height="46.2" fill="url(#pg)"/>
<text x="681.3" y="285.8" font-size="3.3" text-anchor="start" font-weight="normal" font-style="normal" fill="#222">2</text>
<text x="681.3" y="297.35" font-size="3.3" text-anchor="start" font-weight="normal" font-style="normal" fill="#222">1</text>
<text x="681.3" y="308.9" font-size="3.3" text-anchor="start" font-weight="normal" font-style="normal" fill="#222">0</text>
<text x="681.3" y="320.45" font-size="3.3" text-anchor="start" font-weight="normal" font-style="normal" fill="#222">-1</text>
<text x="681.3" y="332" font-size="3.3" text-anchor="start" font-weight="normal" font-style="normal" fill="#222">-2</text></svg>
</body></html>
